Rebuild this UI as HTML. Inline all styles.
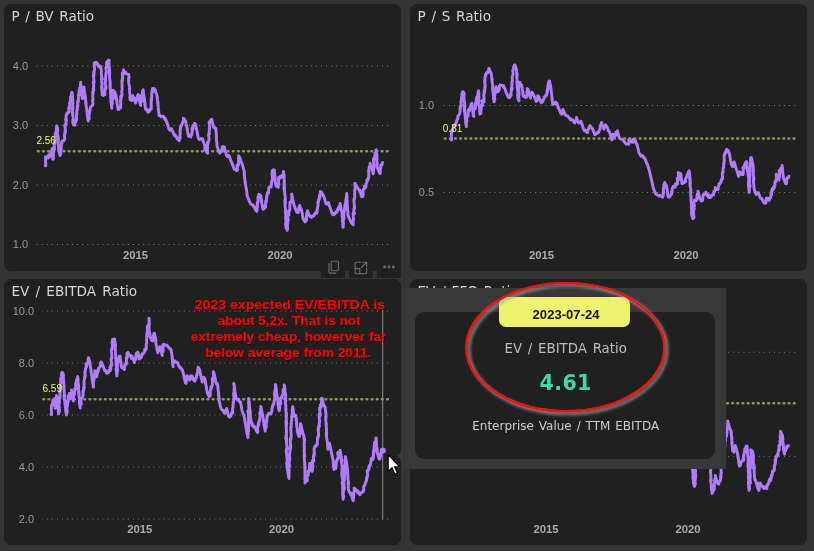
<!DOCTYPE html>
<html lang="en"><head><meta charset="utf-8"><title>Valuation ratios</title>
<style>
html,body{margin:0;padding:0}
body{width:814px;height:551px;overflow:hidden;background:#343434;position:relative;font-family:"DejaVu Sans","Liberation Sans",sans-serif}
.panel{position:absolute;background:#202020;border-radius:7px}
.panel h3{position:absolute;left:7.4px;top:3px;margin:0;font-weight:normal;font-size:13.6px;line-height:18px;color:#d6d6d6;white-space:nowrap}
#p1{left:4px;top:4px;width:397.2px;height:266.5px}
#p2{left:410.1px;top:4px;width:397.2px;height:266.5px}
#p3{left:4px;top:279.1px;width:397.2px;height:265.5px}
#p4{left:410.1px;top:279.1px;width:397.2px;height:265.5px}
.tb{position:absolute;top:255px;width:24.2px;height:22.7px;background:#202020}
svg.layer{position:absolute;left:0;top:0}
.g{stroke:#7a7a7a;stroke-width:1;stroke-dasharray:1.1 3.98}
.a{stroke:#8f9857;stroke-width:2.6;stroke-dasharray:0.7 4.43;stroke-linecap:round}
.s{fill:none;stroke:#b17cf7;stroke-width:2.9;stroke-linejoin:round;stroke-linecap:round}
.yl{font:11px "Liberation Sans",sans-serif;fill:#9a9a9a;text-anchor:end}
.xl{font:bold 11.3px "Liberation Sans",sans-serif;fill:#acacac;text-anchor:middle}
.al{font:10px "Liberation Sans",sans-serif;fill:#f0fa64}
.note{font:bold 13.33px "Liberation Sans",sans-serif;fill:#ff0606;text-anchor:middle}
#tip{position:absolute;left:403.2px;top:287.7px;width:323px;height:181.6px;background:#383838}
#tipin{position:absolute;left:12.2px;top:24.4px;width:299.6px;height:146.5px;background:#202020;border-radius:9px}
#date{position:absolute;left:96.3px;top:9px;width:130.7px;height:30.5px;border-radius:7px;background:#eef36e;color:#111;font:bold 13.1px/35px "Liberation Sans",sans-serif;text-align:center;text-indent:2.5px}
.tl{position:absolute;left:0;width:323px;text-align:center;white-space:nowrap}
#t1{top:52px;font-size:13.33px;word-spacing:1.55px;line-height:18px;color:#bebebe;left:1px}
#t2{top:80.3px;font-size:20.5px;letter-spacing:0.4px;line-height:30px;font-weight:bold;color:#42d8a4;left:1px}
#t3{top:129px;font-size:12px;word-spacing:1.07px;line-height:18px;color:#cecece;left:1px}
#arrow{position:absolute;left:397px;top:450px;width:0;height:0;border-top:6px solid transparent;border-bottom:6px solid transparent;border-right:6px solid #383838}
</style></head>
<body>
<div class="panel" id="p1"><h3 style="word-spacing:1.3px">P / BV Ratio</h3></div>
<div class="panel" id="p2"><h3 style="word-spacing:1.4px">P / S Ratio</h3></div>
<div class="panel" id="p3"><h3 style="word-spacing:1.9px">EV / EBITDA Ratio</h3></div>
<div class="panel" id="p4"><h3 style="word-spacing:1.5px">EV / FFO Ratio</h3></div>
<div class="tb" style="left:321px"></div><div class="tb" style="left:349px"></div><div class="tb" style="left:377px"></div>
<svg class="layer" width="814" height="551" viewBox="0 0 814 551">
<defs>
<filter id="sh" x="-10%" y="-10%" width="125%" height="125%"><feDropShadow dx="1.5" dy="1.5" stdDeviation="1.6" flood-color="#9a9a9a" flood-opacity="0.75"/></filter>
<filter id="tsh" x="-5%" y="-20%" width="110%" height="150%"><feDropShadow dx="0.9" dy="0.9" stdDeviation="0.45" flood-color="#000" flood-opacity="0.6"/></filter>
</defs>
<line x1="388.1" x2="35.9" y1="66" y2="66" class="g"/><line x1="388.1" x2="35.9" y1="125.5" y2="125.5" class="g"/><line x1="388.1" x2="35.9" y1="185" y2="185" class="g"/><line x1="388.1" x2="35.9" y1="244.5" y2="244.5" class="g"/><line x1="387.5" x2="35.5" y1="151.3" y2="151.3" class="a"/><text x="28.1" y="69.8" class="yl">4.0</text><text x="28.1" y="129.3" class="yl">3.0</text><text x="28.1" y="188.8" class="yl">2.0</text><text x="28.1" y="248.3" class="yl">1.0</text><text x="135.5" y="258.6" class="xl">2015</text><text x="280" y="258.6" class="xl">2020</text><path d="M45.2,165.5 L45.6,165.8 L45.9,165.7 L45.8,164.0 L45.6,162.0 L45.5,160.2 L45.7,159.8 L45.6,158.2 L45.5,156.6 L45.9,156.8 L46.2,156.7 L47.0,157.6 L47.5,157.0 L48.4,158.0 L48.6,157.0 L48.6,155.0 L49.2,155.3 L49.6,154.9 L50.4,156.2 L50.3,153.7 L50.6,153.0 L51.2,153.0 L51.4,151.7 L51.8,151.3 L51.9,149.5 L52.2,148.4 L52.5,150.3 L52.5,151.2 L52.5,151.6 L52.2,151.2 L52.4,152.6 L52.5,153.5 L52.7,155.0 L52.7,155.7 L52.9,157.2 L52.8,157.5 L52.9,158.2 L53.0,159.4 L52.8,159.2 L52.8,157.9 L52.8,156.9 L53.4,158.3 L53.4,156.8 L53.5,156.3 L53.6,155.6 L53.5,154.1 L53.2,151.7 L53.7,152.4 L53.6,151.1 L53.9,151.1 L53.7,148.9 L53.7,148.1 L54.2,148.8 L54.6,149.0 L54.2,146.3 L54.0,144.4 L54.2,144.2 L54.5,144.4 L54.6,143.5 L54.8,143.0 L54.6,141.1 L54.9,141.1 L55.2,141.3 L55.1,139.6 L54.9,137.4 L54.9,136.4 L55.3,136.9 L55.1,134.6 L55.3,134.4 L55.3,133.2 L55.5,132.9 L55.7,132.3 L55.9,131.8 L56.3,132.5 L56.4,131.6 L56.7,131.5 L56.5,129.8 L56.4,128.2 L56.6,127.5 L56.6,125.7 L57.6,128.2 L57.6,128.9 L57.5,128.8 L57.8,130.7 L57.7,131.2 L57.3,130.1 L57.5,131.9 L57.5,132.6 L57.6,133.7 L57.8,135.1 L58.2,137.4 L58.2,138.1 L58.2,138.7 L58.3,139.7 L57.9,138.7 L58.3,141.3 L58.1,141.0 L58.3,142.5 L58.1,142.3 L58.0,142.7 L58.1,143.9 L58.7,146.9 L58.7,147.9 L58.5,147.6 L58.5,148.2 L58.4,148.0 L58.7,149.3 L58.8,149.9 L59.2,151.7 L59.0,151.2 L59.3,152.3 L59.3,152.7 L59.5,153.5 L60.0,155.6 L60.1,154.9 L60.3,154.6 L60.6,154.6 L60.9,154.2 L60.5,151.3 L60.7,151.1 L60.4,148.5 L60.6,148.3 L61.3,149.6 L61.2,148.0 L61.2,146.6 L61.3,146.0 L61.4,145.1 L61.5,144.3 L61.5,142.7 L61.9,143.2 L62.1,142.9 L62.0,141.1 L62.7,140.8 L63.4,140.6 L64.1,140.5 L64.5,138.8 L64.8,138.9 L64.6,137.3 L64.4,135.3 L64.4,134.4 L64.8,134.9 L65.0,134.8 L65.0,133.6 L64.8,131.9 L65.0,131.4 L65.4,132.0 L65.6,131.7 L65.2,129.3 L65.2,128.2 L64.9,126.0 L64.9,124.7 L65.2,124.8 L65.3,124.4 L65.6,124.6 L65.9,124.7 L66.0,123.9 L66.2,123.6 L65.9,121.4 L65.6,119.3 L65.8,119.2 L66.5,120.8 L66.4,119.2 L66.0,116.6 L66.1,116.1 L66.2,115.6 L66.5,114.2 L67.1,114.3 L67.2,112.7 L67.9,113.2 L68.2,111.9 L68.5,111.5 L69.0,112.0 L68.8,109.8 L68.7,107.9 L69.3,108.7 L69.1,106.4 L69.8,107.4 L69.7,105.6 L69.5,103.3 L69.8,102.8 L70.0,102.0 L70.3,101.4 L70.4,100.3 L70.9,100.5 L70.4,97.2 L70.7,96.5 L71.0,96.1 L71.7,97.4 L71.3,94.3 L71.6,93.7 L71.7,92.3 L72.1,92.5 L72.2,93.6 L72.4,94.9 L72.7,96.9 L72.4,96.5 L72.5,97.4 L72.7,99.1 L72.8,100.2 L72.5,100.0 L72.8,101.6 L72.4,101.0 L72.9,103.4 L72.7,103.7 L72.6,104.0 L72.7,104.8 L72.8,106.2 L73.1,108.1 L72.9,107.8 L72.7,107.8 L72.8,109.0 L72.5,108.7 L72.2,108.2 L72.6,110.6 L72.6,111.1 L72.9,113.2 L72.6,112.7 L72.0,111.1 L72.5,113.5 L72.7,115.0 L73.1,117.6 L73.1,118.3 L73.1,118.9 L73.1,119.9 L73.0,119.9 L73.0,120.7 L72.7,120.2 L72.9,122.0 L72.8,122.1 L72.9,123.4 L73.7,124.5 L74.3,125.3 L74.3,123.7 L75.0,124.9 L74.9,122.8 L75.3,122.6 L75.6,122.2 L75.7,121.0 L75.8,119.9 L76.4,120.4 L76.5,119.5 L76.6,118.2 L76.3,115.1 L76.6,114.7 L76.9,114.7 L76.9,113.9 L76.7,112.1 L76.7,111.0 L76.8,110.3 L77.1,110.5 L77.3,109.9 L77.5,109.8 L77.3,107.8 L77.6,107.9 L77.4,106.3 L77.4,105.2 L77.9,106.1 L77.8,104.7 L77.8,103.4 L77.7,102.3 L77.7,101.1 L78.2,101.9 L78.4,101.8 L78.4,100.7 L78.3,99.3 L78.5,99.0 L78.4,97.4 L78.5,96.7 L78.5,95.9 L78.4,94.4 L79.0,95.2 L79.3,95.1 L79.5,94.4 L78.9,90.7 L79.5,91.6 L79.7,90.8 L79.5,88.9 L79.6,87.9 L80.0,88.0 L80.3,87.7 L80.4,86.9 L80.4,85.5 L80.5,84.2 L80.7,83.8 L80.7,82.1 L80.6,82.2 L80.5,82.7 L80.7,83.7 L80.9,85.1 L81.5,88.0 L81.0,86.6 L81.2,87.9 L81.2,88.4 L81.4,89.5 L81.7,91.3 L81.9,92.6 L81.7,92.4 L81.6,92.3 L81.3,91.9 L81.5,93.2 L82.0,95.4 L81.9,95.7 L82.1,97.0 L82.3,98.1 L82.2,98.2 L82.6,98.6 L82.5,97.0 L82.4,95.2 L82.3,93.5 L82.8,94.1 L82.9,92.9 L83.0,92.0 L83.3,92.1 L83.2,90.4 L83.8,91.4 L84.0,90.6 L83.8,88.7 L83.8,87.2 L84.1,87.1 L84.0,87.0 L84.0,87.6 L84.2,88.8 L84.4,90.0 L84.5,90.9 L84.7,92.1 L84.7,92.4 L84.8,93.2 L85.2,95.3 L85.3,96.2 L85.1,96.1 L85.6,98.4 L85.1,96.6 L85.3,97.9 L85.6,99.5 L85.8,101.0 L85.8,101.5 L85.7,101.6 L86.0,103.0 L86.0,103.4 L86.1,104.2 L85.6,102.6 L86.0,104.8 L86.0,105.3 L86.5,107.5 L86.7,108.9 L86.9,110.0 L86.8,110.0 L87.0,111.1 L87.0,111.4 L87.1,112.4 L87.2,113.0 L87.1,113.1 L87.7,116.0 L87.8,116.9 L87.3,115.3 L87.8,117.4 L87.5,116.8 L87.7,118.0 L87.8,118.6 L87.9,119.4 L88.2,121.1 L88.2,120.0 L88.1,118.0 L88.4,117.9 L88.7,117.8 L89.3,118.7 L89.1,116.8 L88.9,114.7 L89.1,113.9 L89.4,114.0 L89.4,112.4 L89.4,111.2 L89.8,111.4 L89.9,110.6 L90.1,110.0 L90.2,108.8 L90.4,107.2 L91.0,106.7 L91.5,106.2 L92.0,105.4 L92.7,105.3 L92.8,105.0 L92.9,104.5 L93.0,103.7 L92.7,101.7 L92.5,100.1 L92.9,100.5 L92.9,99.7 L93.0,99.0 L92.7,97.1 L92.8,96.5 L92.8,95.5 L92.7,94.3 L92.8,93.6 L92.6,92.0 L92.9,92.2 L93.3,92.9 L93.2,91.3 L93.3,90.7 L93.1,89.0 L93.4,89.3 L93.8,90.1 L93.4,87.5 L93.4,86.5 L93.8,87.1 L93.8,86.2 L93.7,85.0 L93.2,82.1 L93.4,81.9 L93.7,82.3 L94.1,82.7 L94.1,81.8 L93.8,79.8 L93.7,78.3 L93.4,76.1 L93.4,75.2 L93.9,76.3 L93.9,75.4 L93.7,73.5 L94.1,74.5 L93.7,71.9 L94.2,72.8 L94.1,71.5 L94.2,71.1 L94.4,70.7 L94.4,69.8 L94.6,69.9 L94.5,68.4 L94.4,66.9 L94.3,65.8 L94.2,63.6 L94.5,62.8 L95.1,63.6 L95.6,63.5 L96.0,63.6 L96.1,62.2 L96.9,64.3 L97.1,64.3 L97.1,63.0 L97.5,63.5 L98.4,66.4 L98.7,66.7 L98.9,66.2 L99.6,67.2 L99.7,65.9 L100.3,66.3 L101.1,67.7 L100.5,66.2 L101.1,69.1 L101.4,71.2 L101.4,71.7 L101.4,72.8 L101.2,72.5 L101.4,74.1 L101.6,75.6 L101.9,77.4 L102.1,78.9 L101.9,79.0 L101.7,78.9 L101.5,78.6 L101.4,79.0 L101.6,80.7 L101.8,81.9 L101.7,82.5 L102.1,84.6 L102.1,85.3 L101.9,85.4 L101.8,85.7 L101.8,86.4 L101.6,86.2 L101.5,86.5 L101.7,88.2 L101.7,88.6 L101.7,89.5 L102.1,91.7 L102.0,92.0 L102.3,93.9 L102.1,94.1 L102.1,94.8 L103.3,95.6 L103.8,93.4 L105.0,94.5 L105.0,93.6 L104.6,90.9 L104.9,91.0 L105.1,90.6 L104.8,88.8 L104.9,88.0 L105.2,88.3 L105.6,88.8 L105.8,88.5 L105.9,88.1 L106.0,87.3 L105.2,83.3 L105.2,82.3 L105.5,82.2 L105.0,79.2 L105.5,80.3 L105.8,80.7 L105.7,79.0 L105.7,78.0 L105.6,76.7 L105.8,76.4 L105.9,75.8 L106.0,75.2 L105.8,73.5 L106.1,73.5 L106.1,72.5 L106.4,72.7 L106.4,71.9 L106.1,69.5 L105.9,67.8 L106.2,67.9 L106.2,67.1 L106.5,67.1 L106.7,67.0 L106.7,65.9 L106.5,64.3 L106.6,62.2 L107.4,62.8 L107.6,61.3 L108.4,62.1 L108.7,61.2 L109.2,60.5 L109.0,60.6 L109.1,61.6 L108.5,59.9 L108.8,61.8 L109.2,63.9 L109.1,64.1 L109.0,64.6 L109.2,66.0 L109.4,67.2 L109.3,67.4 L109.5,69.3 L109.2,68.5 L109.7,71.0 L109.4,70.4 L109.3,71.0 L109.8,73.6 L109.6,73.3 L109.3,72.9 L109.6,74.7 L109.5,75.1 L109.5,75.5 L109.5,76.4 L109.6,77.3 L109.6,77.9 L109.6,78.5 L110.2,81.6 L110.0,81.7 L110.3,83.5 L110.0,82.7 L110.2,84.4 L110.0,84.1 L110.0,85.0 L110.3,86.9 L110.3,87.2 L109.9,86.4 L110.1,87.7 L110.3,89.0 L110.6,90.8 L110.4,90.7 L110.5,91.7 L110.6,92.9 L110.3,92.4 L110.6,93.9 L110.5,94.4 L110.8,96.2 L110.9,97.0 L110.9,97.8 L110.5,96.6 L110.8,98.3 L110.9,99.4 L110.8,99.9 L110.9,100.9 L110.8,101.1 L111.1,102.9 L111.4,104.7 L111.6,105.9 L111.4,106.0 L111.9,108.4 L111.7,108.3 L111.7,106.9 L111.7,106.0 L111.5,103.7 L111.7,103.5 L112.1,103.8 L112.4,104.0 L112.3,102.3 L112.0,99.7 L112.2,99.4 L112.7,100.3 L112.7,99.2 L113.1,99.3 L113.2,98.6 L113.4,98.5 L113.4,97.2 L113.2,95.0 L113.3,94.4 L113.9,95.6 L113.6,93.2 L113.2,90.2 L113.6,91.0 L114.2,92.4 L114.4,92.2 L114.6,92.5 L114.8,92.1 L115.5,94.3 L116.0,95.4 L116.0,95.7 L116.1,96.3 L116.1,97.1 L116.6,99.2 L116.6,99.6 L117.0,101.5 L116.8,101.0 L116.8,101.2 L116.8,101.9 L116.9,102.5 L117.1,103.6 L117.5,105.6 L117.9,107.2 L117.6,106.4 L118.0,108.4 L118.0,108.8 L118.1,109.6 L119.0,109.4 L119.5,107.9 L120.5,107.9 L120.7,107.8 L120.6,106.2 L120.6,105.4 L120.7,104.7 L120.8,104.1 L120.5,101.6 L120.4,100.3 L120.7,100.4 L120.9,100.2 L120.9,99.1 L120.7,97.0 L121.2,98.2 L121.2,97.1 L121.1,95.4 L121.6,96.5 L121.8,96.4 L122.0,95.8 L122.0,95.0 L122.0,93.9 L121.7,91.6 L121.8,90.9 L122.0,90.4 L122.1,90.0 L122.2,89.3 L122.0,87.2 L122.1,86.6 L122.0,85.3 L122.1,84.7 L122.0,83.3 L121.8,81.4 L121.8,80.5 L122.2,81.0 L122.4,80.7 L122.6,80.6 L122.2,78.0 L122.4,77.6 L122.8,78.1 L122.4,75.5 L122.4,74.5 L122.3,73.0 L122.9,74.5 L123.0,73.8 L122.9,72.6 L123.1,72.2 L123.2,71.4 L123.4,71.5 L123.7,71.4 L123.5,69.7 L124.1,71.1 L124.5,71.9 L125.0,72.7 L125.5,73.8 L125.3,72.0 L125.8,73.3 L126.8,73.8 L127.8,74.3 L128.8,74.5 L128.8,75.2 L129.0,76.6 L129.0,77.4 L129.0,78.1 L128.8,77.8 L128.7,77.8 L128.7,78.7 L128.5,78.6 L128.7,80.0 L128.8,80.9 L128.6,80.9 L128.5,81.1 L128.8,82.9 L129.0,84.1 L129.7,87.7 L129.8,88.8 L129.6,88.3 L129.5,88.6 L129.4,88.7 L129.4,89.4 L129.5,90.4 L129.6,91.7 L129.6,92.2 L129.9,94.2 L130.1,95.4 L130.5,97.7 L130.0,96.3 L130.2,97.8 L130.1,97.9 L129.8,97.3 L129.9,98.5 L130.1,99.6 L130.4,98.4 L131.5,100.6 L132.0,100.1 L132.6,99.9 L133.0,98.9 L132.7,95.5 L133.1,96.7 L133.4,97.4 L133.8,98.5 L133.9,98.1 L133.8,97.4 L134.9,101.1 L135.4,102.7 L135.6,103.1 L135.7,102.9 L135.9,102.3 L135.9,100.3 L136.4,100.8 L136.6,100.0 L136.8,99.0 L136.9,97.8 L137.1,97.1 L137.4,96.5 L137.6,95.4 L138.0,95.7 L138.2,94.4 L138.3,95.2 L138.3,95.2 L138.8,97.3 L139.2,99.0 L139.4,99.7 L139.0,98.1 L139.1,99.0 L139.6,101.0 L139.8,101.6 L140.2,103.4 L140.1,103.2 L140.4,104.6 L140.6,105.5 L140.4,104.7 L140.4,103.2 L140.6,102.8 L140.7,101.8 L140.7,100.7 L141.3,102.0 L141.4,100.7 L141.6,100.5 L141.4,98.2 L141.1,95.8 L141.4,95.6 L141.8,95.9 L141.8,94.7 L142.1,94.9 L142.5,94.8 L142.4,93.3 L142.5,92.4 L142.5,91.0 L142.9,91.5 L143.4,92.0 L143.2,89.8 L143.2,90.5 L143.1,90.5 L143.2,91.3 L143.6,93.1 L143.4,93.0 L143.9,95.3 L143.6,94.6 L143.8,95.6 L144.2,97.7 L144.6,99.7 L144.4,99.2 L144.5,100.3 L145.1,102.9 L145.1,103.4 L144.4,101.1 L144.7,102.4 L145.3,105.4 L144.9,104.2 L145.2,105.8 L144.7,104.3 L145.3,107.2 L145.2,106.9 L145.5,108.7 L145.6,109.4 L145.5,107.8 L145.9,108.1 L146.7,110.2 L147.0,110.0 L147.8,112.3 L148.2,110.5 L149.2,111.6 L149.6,110.2 L150.1,108.8 L150.9,109.0 L151.2,109.3 L151.1,107.8 L151.2,107.1 L151.3,106.5 L151.2,104.9 L151.0,103.1 L151.3,103.2 L151.2,102.2 L151.0,100.3 L151.4,100.9 L151.6,100.5 L151.6,99.7 L151.5,98.0 L151.6,97.3 L151.8,97.2 L151.9,96.7 L151.7,94.9 L151.6,93.5 L151.9,93.4 L152.0,92.9 L152.3,92.9 L152.0,90.7 L152.3,91.0 L152.7,91.5 L152.8,90.8 L152.5,88.5 L153.5,89.9 L153.9,88.5 L154.8,89.1 L155.5,91.7 L155.2,90.3 L155.3,90.4 L155.9,92.6 L156.0,92.8 L156.2,93.4 L156.4,93.6 L157.2,96.6 L157.3,96.6 L157.3,97.1 L157.0,96.5 L157.4,98.8 L157.5,99.7 L157.7,101.0 L158.1,103.1 L158.1,103.3 L157.7,102.6 L157.6,102.7 L157.9,104.1 L158.3,106.4 L158.0,105.7 L158.1,106.5 L158.2,107.5 L158.5,109.1 L158.3,108.9 L158.5,110.2 L158.8,111.8 L158.8,112.2 L158.8,112.8 L159.0,114.1 L159.1,115.2 L159.1,115.7 L159.9,115.3 L161.1,116.8 L161.9,116.4 L162.6,116.1 L163.0,116.1 L163.3,116.1 L164.0,117.4 L164.9,119.5 L164.9,118.0 L165.3,118.5 L166.3,121.1 L166.5,121.6 L167.0,123.3 L166.9,122.8 L167.3,124.0 L167.1,122.7 L167.4,123.9 L168.1,126.4 L168.7,128.6 L169.0,129.3 L169.8,130.1 L170.2,129.4 L170.9,129.6 L171.3,128.6 L172.5,131.1 L173.2,133.0 L173.3,132.5 L174.1,135.1 L174.1,134.0 L174.6,135.5 L174.9,135.8 L175.0,134.7 L175.8,136.5 L176.2,136.4 L177.1,138.7 L177.4,138.4 L178.0,139.4 L178.5,139.7 L179.1,140.8 L179.1,139.4 L179.5,139.6 L179.7,139.2 L179.7,138.1 L179.7,137.0 L180.3,137.9 L180.0,135.6 L180.0,134.2 L180.3,134.1 L180.3,133.0 L180.0,130.6 L180.2,130.2 L180.4,129.5 L180.3,128.1 L180.6,128.1 L180.6,126.5 L180.8,126.0 L181.0,125.6 L181.5,125.9 L181.7,124.6 L182.0,124.1 L182.3,123.4 L182.7,123.0 L182.8,121.6 L183.2,121.3 L183.4,120.2 L183.4,118.1 L183.9,118.8 L184.2,118.7 L185.0,121.0 L185.6,121.9 L186.0,122.4 L185.6,120.9 L185.5,120.8 L185.7,122.0 L186.1,123.8 L186.2,124.2 L187.0,127.8 L187.2,128.7 L187.3,129.1 L187.1,128.9 L187.3,129.7 L187.5,130.6 L187.6,131.3 L187.8,132.3 L188.2,134.1 L187.9,133.1 L188.2,134.7 L188.5,136.2 L189.1,135.6 L190.0,136.2 L190.9,137.0 L190.7,135.0 L191.3,135.7 L191.4,134.5 L191.8,134.8 L192.0,134.0 L192.0,132.5 L192.2,131.9 L192.2,130.5 L192.0,128.3 L192.7,129.5 L192.9,128.8 L193.2,128.7 L192.8,125.7 L193.3,126.2 L193.5,125.3 L194.3,125.4 L194.6,123.3 L195.8,124.7 L195.7,124.7 L195.9,125.8 L196.2,127.0 L196.2,127.1 L196.4,128.2 L196.6,129.3 L197.1,131.6 L197.1,131.8 L197.7,134.5 L197.4,133.1 L197.4,133.7 L197.9,135.6 L197.5,134.5 L197.9,136.2 L198.1,137.3 L198.1,137.3 L198.3,138.3 L199.5,139.6 L200.2,138.7 L201.2,138.8 L202.0,138.7 L202.7,140.6 L202.3,138.9 L202.4,138.8 L202.7,139.3 L203.2,140.8 L203.8,142.8 L204.3,144.4 L204.5,144.6 L204.9,146.9 L204.8,147.2 L205.0,148.4 L204.8,148.2 L205.0,149.5 L205.5,149.9 L206.4,151.8 L207.0,152.2 L207.6,153.3 L207.3,151.1 L207.1,148.8 L207.5,148.9 L207.6,148.2 L207.5,146.7 L207.4,144.7 L207.8,145.2 L207.5,142.6 L207.7,142.2 L208.2,143.0 L208.2,141.8 L208.5,141.5 L208.6,140.9 L208.7,139.8 L209.0,140.1 L209.1,139.2 L208.9,137.4 L208.6,135.3 L208.7,134.7 L208.7,133.6 L209.0,133.6 L209.3,133.9 L209.4,133.4 L209.2,131.4 L209.3,130.7 L209.3,129.8 L209.3,128.5 L209.7,129.0 L209.7,128.3 L209.8,127.3 L209.4,125.0 L209.0,122.1 L209.2,121.8 L209.7,123.0 L209.8,122.2 L210.1,121.4 L210.4,120.5 L210.9,120.3 L211.2,119.5 L211.7,119.2 L211.9,120.2 L212.0,120.4 L212.4,122.3 L212.6,123.2 L212.8,123.9 L212.9,124.5 L213.0,124.7 L213.1,125.5 L213.4,126.5 L213.5,127.0 L213.4,126.7 L214.5,128.1 L215.1,127.8 L215.9,128.2 L215.9,128.6 L215.8,129.0 L215.8,129.5 L216.0,130.8 L216.3,132.8 L216.3,133.2 L216.4,134.4 L216.1,133.8 L216.5,135.8 L216.3,135.5 L216.6,137.3 L216.5,137.4 L216.4,138.0 L216.3,138.0 L216.3,138.4 L216.5,139.9 L216.5,140.4 L216.7,141.8 L217.1,144.1 L216.9,143.9 L216.9,144.7 L217.0,145.6 L217.1,146.6 L217.4,147.2 L217.8,148.3 L218.3,150.1 L218.4,149.8 L218.7,150.4 L219.0,151.2 L219.6,153.2 L219.6,152.9 L220.1,152.2 L220.8,152.2 L221.4,151.7 L221.6,149.9 L222.0,149.0 L222.4,146.7 L223.3,146.8 L224.5,147.7 L224.3,146.9 L224.9,149.4 L225.2,150.5 L225.4,151.1 L225.5,151.6 L225.9,153.1 L226.0,153.6 L226.4,155.0 L226.5,155.4 L227.7,156.7 L228.2,155.3 L229.4,156.1 L230.0,158.2 L230.4,159.6 L231.0,161.2 L230.8,160.3 L231.3,161.5 L231.7,162.7 L232.0,163.7 L232.0,163.1 L232.7,165.3 L232.9,165.7 L232.8,164.7 L233.7,167.9 L233.8,167.9 L234.2,169.2 L234.2,168.6 L234.3,168.7 L235.5,169.8 L236.6,170.8 L237.3,170.2 L237.5,169.5 L237.2,167.4 L237.0,165.3 L237.6,166.5 L237.4,164.9 L237.8,165.3 L238.2,165.4 L238.2,164.5 L238.5,164.7 L238.5,163.3 L238.5,162.2 L238.5,160.9 L238.6,160.2 L238.7,159.4 L238.5,157.4 L238.6,156.8 L238.6,155.8 L239.0,156.3 L239.7,158.6 L239.6,157.6 L240.0,158.6 L239.8,157.4 L240.2,158.7 L241.0,161.4 L241.2,161.6 L241.4,162.2 L241.7,163.0 L242.0,163.9 L242.3,164.8 L242.0,163.3 L242.2,164.1 L243.1,167.3 L243.1,167.0 L243.7,169.1 L243.9,169.7 L244.1,170.9 L244.3,172.1 L244.3,172.6 L244.1,172.3 L244.4,173.6 L244.5,174.6 L244.3,174.2 L244.3,174.8 L244.2,174.8 L244.4,176.0 L244.6,177.3 L244.6,177.5 L244.4,177.2 L244.9,179.7 L245.4,182.0 L245.2,181.7 L245.3,182.7 L245.4,183.5 L244.9,181.8 L245.8,185.7 L245.9,186.6 L245.7,186.0 L246.2,188.4 L246.4,189.6 L246.7,191.3 L246.8,191.9 L246.8,192.5 L247.1,194.0 L246.9,193.6 L247.0,194.2 L246.8,193.8 L246.7,193.8 L247.1,195.8 L247.5,196.6 L247.4,196.0 L248.0,197.7 L248.6,199.6 L248.6,198.9 L248.9,199.7 L249.7,202.3 L249.7,201.8 L250.2,203.1 L250.5,203.7 L251.4,204.5 L252.1,204.7 L252.9,204.9 L253.4,206.1 L253.8,206.7 L253.8,206.0 L254.4,207.5 L254.6,207.8 L255.4,209.8 L256.8,211.4 L257.2,209.1 L257.0,206.8 L257.4,207.2 L257.5,206.3 L257.3,204.3 L257.2,202.8 L257.7,203.6 L257.7,202.2 L257.8,201.6 L258.0,201.0 L258.4,201.1 L257.8,197.6 L258.4,198.8 L258.3,197.2 L258.4,196.4 L258.8,196.5 L259.0,196.0 L258.8,194.1 L259.8,194.9 L260.9,195.9 L260.8,195.7 L260.9,196.4 L260.8,196.4 L261.3,198.8 L261.8,201.2 L261.6,200.9 L261.6,201.3 L261.5,201.0 L261.6,201.9 L261.6,202.5 L262.0,204.1 L262.6,206.9 L262.8,208.2 L263.0,209.2 L262.7,208.3 L263.7,209.1 L264.4,208.2 L264.3,206.5 L264.7,206.8 L264.9,205.8 L265.6,207.2 L265.5,205.6 L265.5,203.9 L265.8,203.5 L265.6,201.2 L265.9,201.2 L266.4,201.7 L266.4,200.0 L266.3,198.4 L266.8,198.6 L266.6,196.3 L267.0,196.1 L267.1,194.7 L267.4,194.4 L267.4,192.8 L267.8,192.9 L268.1,192.5 L268.7,193.0 L268.6,191.0 L268.8,190.2 L268.7,188.2 L269.3,186.9 L270.3,187.3 L271.1,186.9 L271.1,185.7 L271.1,184.4 L271.4,184.6 L271.6,184.5 L271.5,183.1 L271.8,183.0 L271.7,181.4 L271.8,180.8 L272.0,180.5 L272.1,180.0 L272.3,179.3 L272.6,179.6 L272.3,177.3 L272.3,176.1 L271.9,173.6 L272.4,174.2 L272.2,172.4 L272.2,171.5 L272.3,170.8 L272.6,170.8 L272.7,170.1 L273.5,169.7 L274.4,170.1 L274.4,170.6 L274.5,171.6 L274.4,171.6 L274.5,172.4 L274.4,172.6 L274.8,175.0 L275.1,176.7 L275.2,177.7 L275.3,178.4 L275.1,178.3 L275.3,179.7 L275.0,178.9 L274.6,178.0 L274.7,179.0 L275.4,182.4 L275.6,183.5 L276.0,185.6 L275.7,185.0 L276.9,186.6 L277.8,186.9 L278.3,187.3 L278.3,185.8 L278.5,185.3 L278.4,183.3 L278.8,183.7 L278.5,181.0 L278.5,179.5 L278.7,178.9 L278.7,177.5 L279.2,177.9 L280.0,178.2 L280.3,176.3 L281.3,177.2 L281.8,175.8 L282.2,175.2 L282.8,175.5 L283.3,175.0 L283.3,172.9 L283.5,171.4 L283.6,172.5 L283.9,174.2 L284.2,175.9 L284.3,177.2 L284.0,176.4 L283.5,175.2 L283.3,175.0 L284.0,178.2 L284.2,179.9 L284.4,181.3 L284.3,181.3 L284.2,181.8 L284.3,182.8 L284.4,183.7 L284.4,184.2 L284.1,183.9 L283.9,183.8 L284.2,185.5 L284.3,186.5 L284.7,188.8 L284.4,188.2 L284.0,187.4 L283.9,187.4 L284.2,189.5 L284.8,192.5 L284.7,192.8 L284.7,193.3 L284.8,194.3 L285.2,196.5 L285.3,197.7 L285.3,198.5 L285.4,199.3 L285.1,199.1 L285.1,199.6 L285.2,200.6 L285.5,202.7 L284.8,200.6 L284.8,201.4 L285.1,202.9 L285.1,203.6 L285.1,204.4 L285.1,205.1 L285.0,205.3 L285.2,207.0 L285.6,209.0 L285.4,209.0 L285.5,210.1 L285.7,211.6 L285.4,211.3 L285.4,211.9 L285.2,211.6 L285.7,214.3 L286.0,216.3 L285.8,216.0 L286.1,218.2 L286.1,218.8 L285.5,217.0 L285.7,218.5 L285.8,219.4 L285.9,220.6 L286.0,221.7 L285.8,221.7 L286.1,223.4 L286.0,224.0 L286.4,226.1 L286.2,225.8 L285.5,223.9 L286.1,227.2 L286.2,228.1 L285.9,227.5 L286.1,227.6 L286.5,228.2 L287.2,230.4 L287.1,229.1 L287.5,229.5 L287.4,227.9 L287.6,228.0 L287.5,226.2 L287.3,224.4 L287.6,224.6 L287.6,223.6 L287.8,223.3 L287.4,220.9 L287.4,219.7 L287.5,219.3 L288.2,220.8 L288.2,219.9 L287.7,217.1 L287.2,213.9 L288.0,216.3 L288.2,215.8 L287.9,213.8 L288.3,214.3 L288.5,214.1 L289.0,214.8 L288.8,213.1 L288.5,210.9 L289.4,211.1 L289.9,209.3 L289.8,207.9 L289.8,206.5 L289.9,205.8 L289.9,204.4 L289.9,203.1 L290.0,202.3 L290.5,202.9 L290.7,202.5 L290.8,201.8 L291.1,201.6 L291.3,201.3 L291.5,200.6 L291.9,201.2 L291.8,199.6 L291.9,198.4 L291.7,196.6 L292.1,196.7 L292.1,195.4 L291.6,194.0 L292.2,196.2 L292.1,196.1 L292.5,197.8 L292.7,198.8 L292.6,198.5 L292.6,198.6 L292.9,200.1 L293.8,203.8 L293.5,202.8 L293.6,203.3 L293.8,204.4 L294.0,204.8 L294.7,206.9 L295.3,209.1 L295.4,208.9 L295.7,209.5 L295.8,209.5 L296.4,211.5 L296.4,211.0 L297.3,212.4 L297.8,212.1 L298.3,212.4 L298.4,211.1 L298.4,209.2 L299.1,210.4 L298.8,207.2 L299.2,207.0 L299.4,206.1 L299.7,205.4 L300.4,207.9 L300.7,208.5 L300.8,208.5 L300.9,208.4 L301.4,209.8 L301.7,210.7 L301.8,211.4 L301.8,211.7 L302.4,214.3 L302.5,214.9 L302.5,215.3 L302.4,214.9 L302.4,215.5 L302.9,217.6 L302.9,217.8 L303.2,219.4 L303.9,220.2 L304.6,221.3 L305.2,222.0 L305.3,220.9 L305.4,219.9 L305.6,219.2 L305.9,219.1 L306.6,220.3 L306.6,219.2 L306.3,216.2 L306.9,217.5 L306.8,215.7 L306.7,213.8 L306.9,213.2 L307.1,212.3 L307.3,211.7 L307.4,210.8 L307.8,211.5 L308.4,213.4 L309.1,215.1 L309.3,215.0 L309.5,215.2 L310.7,216.8 L311.5,217.4 L311.9,216.2 L312.9,216.2 L313.7,216.1 L314.2,214.4 L315.1,214.0 L315.6,212.6 L316.7,213.3 L316.9,212.7 L317.1,212.3 L317.1,210.8 L317.1,209.3 L317.5,209.6 L317.5,208.2 L317.6,207.2 L317.7,206.5 L318.0,206.2 L318.1,205.3 L317.9,203.4 L317.9,202.0 L318.4,202.7 L318.5,201.5 L318.6,200.8 L318.6,199.2 L319.2,199.6 L319.4,199.2 L319.4,197.6 L319.3,195.4 L320.1,196.9 L320.1,195.3 L320.0,193.5 L320.2,192.8 L320.3,191.5 L320.8,192.0 L321.2,192.1 L321.6,192.2 L322.4,194.2 L322.8,194.3 L323.4,195.2 L323.6,195.9 L323.8,196.6 L323.9,196.9 L324.0,196.9 L324.3,198.2 L324.7,199.3 L325.0,200.4 L325.3,201.4 L325.8,203.5 L326.9,204.2 L327.7,203.5 L328.3,202.5 L328.5,203.1 L328.4,202.4 L328.9,204.2 L329.5,206.3 L329.5,206.0 L329.6,206.1 L329.7,206.5 L330.1,207.7 L330.4,208.6 L330.5,208.6 L331.3,211.1 L331.9,213.2 L332.0,213.2 L332.2,213.4 L332.3,213.2 L332.7,214.6 L333.6,214.8 L334.0,213.3 L335.0,213.9 L335.3,213.3 L335.6,212.2 L336.1,212.2 L336.4,211.6 L337.0,212.0 L337.2,210.5 L337.6,210.4 L337.7,208.9 L338.5,209.6 L338.6,207.5 L339.0,206.6 L339.9,207.7 L340.0,205.5 L340.1,203.4 L340.3,204.4 L340.1,204.1 L340.2,204.5 L340.4,205.5 L340.7,206.6 L341.1,208.7 L341.0,208.3 L341.2,209.3 L341.5,210.7 L341.6,211.2 L342.0,212.9 L342.2,214.0 L342.1,214.3 L342.0,214.2 L342.0,214.9 L342.0,215.6 L342.1,216.4 L342.3,218.1 L342.8,220.5 L343.2,222.9 L342.9,222.3 L342.3,220.6 L342.9,223.3 L342.8,223.7 L342.7,224.0 L343.1,225.9 L343.0,226.2 L342.9,226.6 L342.9,227.2 L343.2,227.1 L343.4,226.8 L343.1,224.8 L343.1,223.6 L343.5,224.2 L343.3,222.4 L343.3,221.4 L343.2,220.1 L343.4,219.5 L343.7,219.8 L343.7,218.9 L344.0,218.9 L344.1,218.2 L343.6,215.1 L343.7,214.8 L343.9,214.3 L343.6,212.2 L344.0,212.8 L344.1,212.1 L344.1,210.9 L344.3,210.8 L344.6,210.8 L344.7,210.3 L344.5,208.3 L344.6,207.5 L345.3,208.9 L344.9,205.9 L345.0,205.1 L345.1,204.3 L345.6,204.8 L345.7,203.9 L345.7,202.7 L345.6,201.2 L346.0,201.3 L346.0,200.0 L346.0,198.8 L346.2,198.0 L346.4,197.6 L346.4,196.5 L346.6,195.7 L346.8,195.3 L346.7,193.5 L346.7,194.1 L346.8,195.1 L347.0,196.6 L347.1,197.6 L346.9,197.6 L346.7,197.5 L346.8,198.4 L346.8,199.2 L347.2,201.2 L347.3,202.5 L347.3,203.0 L347.1,202.7 L346.9,202.6 L347.1,204.3 L347.4,206.0 L347.5,207.1 L347.5,207.5 L347.6,208.8 L347.2,207.6 L347.6,210.1 L348.0,212.2 L347.9,212.5 L347.9,213.1 L347.8,213.4 L348.1,214.9 L347.8,214.5 L347.9,215.4 L348.3,216.4 L348.4,216.0 L349.1,217.8 L349.6,219.2 L350.0,219.9 L350.3,220.4 L351.2,222.7 L351.4,222.3 L351.9,223.1 L352.6,224.4 L352.9,224.4 L353.2,224.7 L353.1,223.3 L353.2,222.5 L353.2,221.4 L353.3,221.0 L353.2,219.3 L353.4,219.4 L353.6,219.2 L353.3,216.9 L353.1,214.8 L353.0,213.5 L353.1,212.9 L353.5,213.5 L353.6,212.9 L354.1,213.9 L354.4,213.8 L353.8,210.6 L353.8,209.5 L353.9,208.6 L354.2,208.7 L354.4,208.8 L354.5,208.2 L354.2,206.0 L354.6,206.9 L354.2,204.2 L354.2,203.4 L354.0,201.7 L353.9,200.5 L354.2,200.4 L354.0,199.0 L354.3,199.3 L354.5,198.9 L354.5,197.9 L354.6,197.6 L354.8,197.4 L354.9,196.9 L354.5,194.3 L354.6,194.1 L354.8,193.8 L354.6,192.2 L354.5,190.9 L354.8,191.2 L354.9,190.6 L354.8,189.4 L355.1,189.5 L355.1,188.8 L355.4,188.7 L355.0,186.4 L355.1,186.0 L354.7,183.4 L355.0,183.3 L356.0,186.1 L356.2,185.5 L356.7,186.3 L357.2,187.2 L357.9,188.2 L358.8,189.7 L359.6,191.3 L359.8,190.2 L360.1,191.5 L360.5,192.7 L360.8,194.0 L360.8,193.8 L361.2,195.6 L360.9,194.4 L361.2,195.6 L361.1,195.2 L361.6,196.8 L361.6,195.0 L362.4,196.3 L362.9,196.6 L363.1,195.5 L363.2,194.0 L362.9,190.8 L363.2,190.3 L363.4,189.2 L364.0,189.5 L364.3,189.1 L364.4,187.4 L364.5,186.1 L365.0,186.2 L365.8,187.4 L366.0,186.3 L365.9,184.0 L366.3,183.4 L366.6,182.8 L366.9,182.0 L366.8,179.7 L367.6,180.7 L367.9,180.0 L368.2,179.3 L368.3,177.6 L368.7,177.8 L368.9,177.4 L368.6,175.3 L368.9,175.3 L368.8,173.4 L368.5,170.9 L368.9,171.7 L368.8,170.0 L368.9,169.2 L368.9,168.0 L369.1,167.7 L369.3,167.0 L369.5,166.6 L369.7,166.4 L370.1,166.9 L370.2,165.8 L370.2,164.8 L370.1,163.2 L370.6,164.9 L370.9,165.9 L371.0,166.2 L370.9,165.5 L371.0,165.6 L371.4,167.1 L371.6,167.7 L371.9,168.7 L372.0,169.0 L372.1,169.5 L372.7,171.8 L373.0,173.2 L372.9,172.4 L373.2,173.8 L373.3,173.0 L373.2,171.8 L373.6,172.2 L373.6,171.3 L373.7,170.3 L373.5,168.5 L373.8,168.8 L373.9,168.0 L374.0,167.2 L373.8,165.5 L374.2,166.2 L373.5,162.1 L373.5,161.0 L373.4,159.8 L373.5,159.1 L373.7,158.6 L373.9,158.4 L374.1,158.1 L374.3,158.1 L374.8,158.7 L374.9,158.0 L374.8,156.9 L374.8,155.6 L374.9,155.1 L375.1,154.8 L374.9,153.0 L375.8,153.7 L376.1,152.2 L376.5,151.0 L376.1,149.8 L376.3,151.5 L376.4,152.3 L376.8,154.6 L377.0,156.0 L377.0,156.5 L377.0,157.4 L376.9,157.4 L376.7,157.3 L377.1,159.4 L376.8,158.8 L376.8,159.5 L376.6,159.7 L376.6,160.3 L376.8,161.5 L377.2,163.7 L377.0,163.6 L377.3,165.5 L376.9,164.5 L376.9,165.3 L377.2,167.2 L377.6,168.2 L378.3,170.4 L378.0,168.7 L378.5,170.2 L379.3,172.9 L379.4,172.9 L380.0,173.6 L380.3,173.0 L380.4,171.6 L380.1,168.9 L380.2,167.7 L380.9,168.6 L380.8,166.6 L380.8,165.0 L381.2,164.9 L381.9,165.0 L382.2,164.1 L382.5,162.4" class="s"/><text x="36.4" y="144.4" class="al">2.56</text><line x1="795.3" x2="442" y1="105.5" y2="105.5" class="g"/><line x1="795.3" x2="442" y1="192.5" y2="192.5" class="g"/><line x1="794.4" x2="441.6" y1="138.5" y2="138.5" class="a"/><text x="434.1" y="109.3" class="yl">1.0</text><text x="434.1" y="196.3" class="yl">0.5</text><text x="541.5" y="258.6" class="xl">2015</text><text x="686" y="258.6" class="xl">2020</text><path d="M451.0,139.7 L451.4,140.0 L451.7,139.9 L451.6,138.2 L451.4,136.2 L451.3,134.4 L451.6,134.0 L451.5,132.4 L451.5,130.8 L451.9,131.0 L452.2,131.0 L452.6,130.6 L452.6,128.9 L453.0,128.4 L453.4,127.8 L453.4,125.7 L454.0,126.1 L454.4,125.8 L454.8,125.7 L455.3,125.6 L455.4,124.0 L455.9,124.1 L456.1,122.8 L456.5,122.5 L456.6,120.7 L456.9,120.0 L457.2,119.2 L457.7,119.3 L457.9,118.1 L457.9,116.0 L458.4,115.8 L458.7,115.1 L459.1,114.9 L459.4,114.0 L459.7,113.1 L459.9,112.5 L460.0,111.5 L460.2,111.0 L460.0,108.8 L460.1,107.8 L460.2,106.8 L460.8,108.0 L460.8,106.5 L461.0,105.9 L461.2,105.2 L461.1,103.6 L460.9,101.2 L461.3,101.7 L461.3,100.5 L461.6,100.5 L461.4,98.2 L461.5,97.4 L462.0,98.1 L462.3,98.3 L461.9,95.6 L461.8,93.7 L462.0,93.4 L462.4,93.6 L462.5,92.9 L462.6,91.9 L463.1,91.7 L464.0,93.1 L464.3,94.9 L464.1,94.8 L463.8,94.2 L463.8,94.9 L464.2,97.0 L463.8,96.2 L464.0,97.7 L463.9,98.0 L464.1,99.3 L464.2,100.3 L464.3,101.5 L464.7,103.8 L464.7,104.4 L465.0,106.0 L464.8,105.9 L464.6,105.9 L464.7,107.0 L464.1,105.1 L464.4,106.9 L464.6,108.5 L464.4,108.4 L464.7,110.3 L464.7,110.8 L464.2,109.7 L464.5,111.5 L464.8,113.3 L464.7,113.3 L464.9,114.6 L465.4,117.0 L465.4,117.6 L465.4,118.2 L465.6,119.3 L465.2,118.2 L465.7,120.8 L465.5,120.5 L465.8,122.0 L465.6,121.9 L465.6,122.3 L465.8,123.4 L466.4,126.4 L466.3,126.6 L466.3,125.5 L466.4,124.3 L466.2,122.6 L466.5,122.2 L466.5,121.2 L466.9,121.4 L466.7,119.3 L466.8,118.7 L466.9,117.5 L467.0,116.6 L467.4,117.1 L467.5,116.4 L467.8,116.1 L468.1,116.1 L468.3,115.7 L467.9,112.8 L468.1,112.6 L468.0,110.9 L468.4,109.8 L469.3,111.1 L469.5,109.5 L469.8,108.1 L470.2,107.5 L470.6,106.5 L471.0,105.7 L471.1,104.0 L471.7,104.4 L472.0,103.2 L472.0,104.1 L472.1,105.0 L472.3,106.2 L472.5,107.5 L472.5,108.1 L472.7,109.0 L472.5,109.0 L472.3,108.7 L472.4,109.4 L472.8,111.5 L473.0,113.0 L473.0,113.4 L472.9,113.4 L473.1,114.5 L473.2,115.7 L473.8,116.4 L473.6,114.0 L473.7,112.9 L473.6,110.7 L473.6,109.4 L474.0,109.5 L474.3,109.0 L474.8,109.2 L474.9,108.3 L475.3,108.5 L475.6,108.2 L475.4,106.0 L475.2,103.9 L475.5,103.9 L476.3,105.5 L476.2,103.9 L475.9,101.3 L476.1,100.8 L476.5,101.2 L476.3,98.9 L476.6,98.9 L476.6,97.3 L476.9,97.0 L477.3,97.1 L477.5,95.9 L478.1,96.4 L478.0,94.1 L478.0,92.2 L478.6,93.0 L478.5,90.6 L479.0,93.4 L478.8,93.2 L478.5,92.6 L478.6,93.6 L478.7,94.6 L478.8,95.6 L478.8,96.1 L479.1,97.9 L478.5,96.2 L478.6,97.2 L478.7,98.4 L479.3,101.3 L478.7,99.8 L478.8,100.8 L478.7,101.1 L478.8,102.0 L479.2,104.0 L479.3,105.3 L479.7,107.3 L479.4,106.9 L479.5,107.8 L479.7,109.5 L479.8,110.6 L479.6,110.4 L479.9,112.0 L479.6,111.4 L480.0,113.8 L479.9,114.1 L479.8,114.0 L480.1,113.6 L480.4,113.3 L480.9,113.6 L480.9,111.7 L480.9,110.0 L481.2,109.6 L481.1,107.7 L481.0,105.6 L481.7,106.4 L481.9,105.2 L482.5,105.6 L482.5,103.5 L482.3,100.4 L483.0,101.1 L483.6,101.4 L484.0,101.9 L484.0,101.0 L484.0,100.0 L484.1,99.3 L484.0,97.7 L484.0,96.9 L483.7,94.8 L484.0,94.9 L483.9,93.4 L484.0,92.6 L484.3,92.8 L484.5,92.7 L484.2,90.5 L484.8,91.7 L484.5,89.6 L484.7,89.4 L484.9,89.0 L484.8,87.8 L484.8,86.7 L485.2,87.2 L485.2,86.3 L485.2,85.0 L484.6,81.9 L484.6,80.8 L485.1,81.5 L485.1,80.7 L484.9,78.8 L484.9,77.7 L485.0,77.1 L485.3,77.2 L485.4,76.7 L485.6,76.5 L485.4,74.5 L486.1,74.6 L486.5,72.9 L487.1,72.0 L487.8,72.8 L488.1,71.5 L488.4,70.2 L488.7,69.2 L489.0,68.3 L489.8,70.4 L490.3,71.8 L490.7,72.3 L490.9,72.5 L491.2,72.7 L491.3,73.7 L491.4,74.6 L491.5,75.4 L491.5,75.9 L491.9,78.0 L492.2,79.6 L492.2,80.4 L491.6,78.4 L492.1,81.0 L492.2,81.8 L492.0,81.5 L492.0,82.0 L492.4,83.9 L492.6,85.3 L492.7,86.1 L492.6,86.3 L492.6,86.7 L492.8,87.9 L492.7,88.2 L492.5,88.0 L492.5,88.5 L492.7,89.5 L492.9,90.9 L493.5,93.8 L493.0,92.5 L493.2,93.8 L493.3,94.3 L493.4,95.4 L493.7,97.3 L493.9,98.6 L493.8,98.4 L493.6,98.3 L493.4,97.9 L493.6,99.2 L494.1,101.5 L494.0,101.7 L494.3,101.5 L494.4,101.0 L494.5,100.1 L494.8,99.8 L494.7,98.2 L494.5,96.3 L494.4,94.6 L494.9,95.2 L494.9,94.0 L495.0,93.0 L495.3,93.1 L495.2,91.3 L495.7,92.3 L495.8,91.5 L495.7,89.6 L495.6,88.1 L496.0,88.4 L495.9,86.6 L496.0,86.7 L496.5,88.0 L496.9,89.2 L497.2,90.1 L497.7,91.3 L497.9,91.7 L498.1,90.8 L498.6,91.2 L498.9,90.5 L498.9,88.7 L499.5,89.3 L499.2,86.0 L499.5,85.6 L500.0,85.6 L500.2,84.8 L501.1,85.5 L501.8,85.3 L502.6,85.8 L503.1,86.5 L503.7,87.6 L503.5,85.5 L504.3,87.7 L504.9,88.9 L505.4,90.3 L505.9,91.7 L506.3,92.8 L506.4,92.8 L506.8,93.9 L507.0,94.2 L507.4,95.2 L507.6,95.8 L507.9,96.4 L509.1,97.7 L509.9,97.5 L510.1,94.7 L511.2,95.5 L510.9,93.5 L511.1,93.0 L511.1,92.1 L511.2,91.2 L511.4,91.1 L511.4,90.1 L511.2,88.2 L511.4,88.1 L511.7,88.0 L512.2,88.9 L512.0,87.0 L511.7,85.0 L511.8,84.2 L512.1,84.3 L511.9,82.6 L511.9,81.5 L512.2,81.7 L512.3,80.9 L512.4,80.3 L512.3,78.9 L512.2,77.5 L512.3,76.9 L512.4,76.3 L512.5,75.5 L512.7,75.3 L512.9,75.0 L513.0,74.5 L513.1,73.7 L512.9,71.7 L512.7,70.1 L513.1,70.5 L513.1,69.7 L513.5,68.9 L513.6,66.9 L514.0,66.3 L514.3,65.1 L514.7,64.8 L514.9,64.8 L515.0,64.9 L515.6,66.8 L516.3,69.2 L516.5,69.5 L516.6,70.4 L516.4,70.2 L516.7,72.1 L517.2,74.6 L516.7,73.6 L516.7,74.3 L517.1,76.5 L517.1,77.2 L517.1,77.6 L516.6,76.3 L516.8,77.7 L517.1,79.8 L517.5,81.8 L517.5,82.5 L517.2,82.2 L517.1,82.3 L516.8,81.7 L516.8,82.4 L517.3,85.1 L517.4,85.9 L517.1,85.6 L517.6,88.2 L517.2,87.2 L517.7,89.8 L517.6,90.1 L517.7,91.2 L517.9,92.5 L517.9,93.2 L518.1,94.9 L518.0,95.1 L517.9,95.2 L517.8,95.4 L517.5,95.1 L517.6,96.0 L518.0,98.4 L518.1,99.4 L518.5,100.0 L519.1,100.9 L518.9,99.2 L518.8,97.7 L518.4,94.9 L518.5,93.9 L519.1,95.2 L519.1,94.1 L519.0,92.5 L519.0,91.6 L518.6,88.8 L518.7,87.8 L518.6,86.5 L518.4,84.7 L519.0,85.9 L519.4,86.4 L519.4,85.2 L519.6,84.7 L519.4,82.9 L519.7,82.8 L519.8,82.2 L520.8,84.5 L521.5,86.0 L521.6,85.0 L521.8,86.1 L521.7,85.8 L521.7,86.2 L522.1,87.8 L522.3,89.1 L522.4,89.7 L522.8,91.8 L522.9,92.5 L522.9,92.6 L522.9,92.9 L523.0,93.6 L522.9,93.5 L522.9,93.8 L523.2,95.5 L523.4,96.4 L524.1,96.0 L525.3,97.4 L525.9,96.8 L526.5,97.2 L526.5,95.8 L527.0,96.0 L527.1,94.8 L526.8,91.8 L527.4,92.4 L527.5,91.1 L527.2,88.5 L527.8,89.0 L528.1,89.8 L528.1,89.6 L528.4,90.5 L528.9,92.4 L529.5,94.6 L529.9,95.9 L530.3,97.1 L530.6,98.0 L530.2,96.3 L530.8,94.8 L531.7,94.9 L531.9,92.1 L533.2,93.9 L533.7,95.4 L533.8,95.4 L534.1,96.1 L534.3,96.3 L534.8,97.7 L535.1,98.7 L535.5,99.7 L535.6,99.7 L536.2,101.5 L536.5,100.3 L537.2,100.6 L537.6,99.8 L537.6,97.3 L537.8,95.7 L538.6,96.3 L538.8,96.5 L539.3,98.1 L539.8,99.7 L540.0,100.1 L539.9,99.2 L540.1,99.5 L540.7,101.6 L541.0,102.4 L541.8,102.5 L542.2,101.7 L542.9,101.5 L543.1,99.9 L543.7,99.4 L544.1,98.1 L544.4,96.6 L545.2,97.2 L545.5,95.9 L546.0,94.9 L546.7,95.2 L546.8,94.3 L546.8,92.9 L547.2,93.1 L547.0,90.7 L547.6,91.6 L547.4,89.4 L547.5,88.4 L548.1,89.3 L547.9,87.4 L547.8,85.4 L548.1,85.5 L548.4,85.2 L548.4,83.0 L548.7,82.2 L549.0,81.3 L549.6,81.3 L549.4,80.9 L550.2,84.0 L550.1,84.0 L550.6,85.9 L550.3,85.1 L550.7,86.9 L550.6,86.5 L550.8,87.5 L551.2,89.3 L551.2,89.6 L550.9,88.9 L551.1,90.1 L551.3,91.5 L551.6,93.3 L551.5,93.2 L551.6,94.1 L551.8,95.3 L551.6,94.8 L551.8,96.3 L551.8,96.8 L552.2,98.6 L552.3,99.4 L552.3,100.2 L551.9,99.0 L552.2,100.7 L552.4,101.8 L552.4,102.2 L552.5,103.2 L552.8,104.6 L553.3,103.7 L554.1,103.9 L554.9,103.7 L555.3,102.2 L556.0,102.1 L556.6,103.9 L556.5,103.1 L556.8,103.8 L556.7,103.1 L557.2,104.5 L557.8,106.3 L558.3,108.2 L558.4,107.8 L558.4,107.1 L558.9,108.4 L559.7,110.9 L560.1,111.5 L560.7,113.3 L560.9,113.2 L561.8,114.2 L562.0,113.0 L562.1,110.8 L562.5,110.3 L563.0,109.9 L563.3,110.7 L563.1,109.4 L564.0,112.5 L564.3,113.1 L564.3,112.8 L564.5,113.0 L564.5,112.7 L565.2,115.0 L566.0,115.6 L566.5,115.5 L567.3,115.9 L568.0,116.3 L569.0,117.8 L569.6,118.2 L570.5,119.9 L570.8,119.0 L571.3,119.0 L572.0,119.8 L572.5,119.7 L573.2,120.7 L574.1,122.5 L574.7,123.0 L574.8,121.5 L575.5,121.9 L575.7,120.7 L576.3,121.0 L576.4,119.2 L576.5,117.5 L576.9,118.9 L577.3,120.0 L577.4,119.9 L577.6,120.7 L577.9,121.6 L578.3,122.5 L578.1,121.6 L578.6,123.1 L579.3,122.3 L580.3,122.6 L581.1,122.3 L581.0,121.3 L581.8,124.2 L582.1,124.6 L582.2,124.5 L582.9,127.2 L583.4,128.6 L583.8,129.6 L583.8,129.2 L584.6,130.7 L584.9,129.8 L585.5,130.5 L586.2,131.4 L586.9,132.4 L587.4,132.6 L587.6,131.0 L588.0,129.9 L588.4,129.1 L588.8,128.5 L589.1,127.1 L589.6,126.6 L590.0,125.5 L591.2,127.2 L592.2,128.4 L592.6,129.6 L592.5,128.6 L592.9,129.7 L593.5,131.8 L593.4,130.8 L593.6,131.3 L593.8,131.4 L594.7,134.7 L595.5,134.2 L596.2,133.4 L597.1,133.5 L597.4,132.5 L598.0,132.6 L598.5,132.5 L598.9,131.9 L599.1,130.6 L599.5,130.0 L599.8,129.3 L600.2,128.8 L600.1,125.9 L600.5,125.2 L600.9,124.4 L601.3,123.6 L601.6,122.4 L601.8,123.2 L602.2,124.5 L602.5,125.3 L602.8,126.1 L602.8,125.8 L602.8,125.8 L603.1,126.7 L603.2,126.6 L603.9,129.2 L604.3,127.5 L604.9,126.0 L605.5,124.8 L606.8,126.6 L606.9,126.5 L608.0,129.9 L608.4,131.0 L608.5,130.5 L608.7,130.8 L608.9,130.9 L609.2,131.4 L609.8,133.2 L610.1,133.7 L610.3,134.3 L610.9,136.3 L611.3,137.6 L611.9,139.8 L611.7,138.5 L612.0,139.5 L612.3,138.5 L612.2,136.3 L612.6,135.9 L612.7,134.2 L613.2,134.3 L614.3,136.5 L614.7,136.1 L614.7,134.2 L615.8,135.2 L615.9,132.0 L616.7,131.7 L617.4,130.8 L617.7,132.1 L617.7,131.7 L617.5,131.0 L618.4,134.7 L618.8,136.3 L619.0,136.7 L618.9,136.6 L619.2,137.5 L619.3,137.7 L620.4,138.8 L621.4,139.2 L622.3,139.3 L622.8,139.7 L623.4,140.5 L624.0,141.5 L624.5,141.9 L625.3,143.2 L626.2,144.0 L626.9,144.0 L627.6,144.0 L628.2,144.1 L628.7,144.2 L629.0,143.3 L628.8,140.1 L629.1,139.4 L629.7,139.5 L630.3,140.2 L631.2,141.8 L631.6,141.5 L632.2,142.1 L633.2,142.3 L633.3,139.3 L634.5,140.1 L634.8,140.4 L635.3,140.9 L635.7,141.4 L636.7,144.2 L637.0,144.3 L637.4,145.9 L637.2,145.1 L637.0,144.3 L637.3,145.7 L637.8,147.6 L637.9,148.0 L638.3,149.6 L638.6,151.2 L638.6,151.2 L638.8,152.0 L638.9,152.6 L639.8,154.0 L640.7,156.0 L641.2,156.2 L641.5,155.4 L642.1,155.5 L642.8,156.0 L643.8,157.7 L644.4,157.6 L645.0,159.6 L645.0,158.8 L645.4,159.8 L646.1,161.8 L646.8,163.8 L646.8,163.2 L647.3,164.3 L647.6,164.9 L648.2,167.3 L647.7,164.9 L648.0,166.2 L648.8,169.1 L648.5,167.9 L648.9,169.5 L648.6,168.0 L649.3,170.8 L649.3,170.5 L649.7,172.2 L649.9,172.9 L649.5,171.4 L649.6,171.7 L650.1,173.8 L650.0,173.7 L650.4,175.3 L650.5,175.7 L651.2,178.4 L651.2,178.5 L651.2,178.6 L651.6,180.4 L651.9,181.5 L652.1,182.3 L652.3,183.2 L652.5,184.2 L652.5,184.2 L652.4,183.9 L652.8,185.6 L652.9,186.2 L652.8,185.9 L653.4,188.1 L653.7,189.3 L653.8,189.8 L654.0,190.0 L654.4,190.8 L655.0,192.4 L655.5,193.6 L655.7,193.4 L656.1,194.2 L657.1,194.7 L658.2,195.4 L659.2,196.1 L659.9,195.1 L661.1,196.1 L662.4,197.3 L663.0,196.0 L663.2,195.6 L663.4,195.1 L663.1,192.4 L663.2,191.4 L663.8,192.6 L663.4,189.6 L663.3,188.0 L663.8,188.6 L663.8,187.1 L663.8,186.1 L663.8,184.6 L664.5,185.9 L664.4,184.2 L664.5,183.4 L664.7,182.5 L665.8,184.9 L666.5,185.9 L666.7,187.2 L667.2,189.3 L667.2,189.6 L666.9,188.9 L666.9,189.1 L667.2,190.5 L667.7,192.8 L667.4,192.2 L667.6,193.1 L667.7,194.1 L668.1,195.7 L667.9,195.6 L668.2,197.0 L669.4,197.1 L670.2,195.9 L670.5,195.1 L670.9,194.8 L671.2,194.2 L671.7,194.2 L671.5,191.6 L672.1,192.0 L672.2,190.5 L672.2,188.5 L672.6,188.1 L673.1,186.4 L674.0,186.6 L675.1,187.3 L675.1,184.6 L675.6,183.7 L676.5,184.6 L676.9,183.8 L677.6,183.7 L677.4,181.8 L677.6,181.3 L677.2,178.4 L677.4,178.0 L677.9,178.9 L678.4,179.4 L678.8,179.7 L678.6,178.0 L678.4,175.9 L678.5,174.9 L678.2,172.5 L678.8,173.8 L680.1,174.8 L680.7,173.6 L681.2,176.1 L680.9,175.0 L681.1,176.5 L681.0,176.4 L680.8,175.9 L681.2,177.9 L681.1,178.0 L681.7,180.6 L681.5,180.4 L681.7,181.6 L681.7,182.1 L682.0,183.5 L682.6,182.5 L683.6,183.1 L684.3,182.6 L684.6,182.0 L684.9,180.8 L685.6,181.7 L685.6,179.4 L685.8,178.0 L686.2,177.6 L686.9,176.9 L687.2,174.5 L688.1,174.6 L688.2,173.2 L688.4,171.8 L688.9,171.6 L689.2,170.8 L689.2,171.1 L689.1,171.3 L689.7,174.3 L689.6,174.6 L689.8,175.8 L689.9,176.7 L690.1,177.9 L690.0,178.2 L690.2,179.5 L690.2,180.0 L689.6,178.4 L690.0,180.3 L689.9,180.3 L690.3,182.7 L690.4,183.7 L690.4,184.1 L689.9,182.8 L690.3,184.9 L689.9,184.0 L690.2,185.7 L690.1,186.2 L690.9,189.8 L690.9,190.8 L690.9,191.2 L690.6,191.0 L690.7,191.8 L690.7,192.8 L690.7,193.5 L690.8,194.5 L691.1,196.3 L690.7,195.3 L690.9,196.9 L691.3,199.0 L690.9,198.3 L691.0,199.3 L691.0,200.0 L690.9,200.1 L691.3,202.5 L691.2,202.9 L691.6,204.9 L691.6,205.7 L691.5,205.9 L691.5,206.9 L691.4,207.2 L691.1,206.6 L691.7,209.4 L691.7,210.3 L692.0,211.9 L691.4,210.5 L691.8,212.7 L692.0,214.0 L691.9,214.3 L691.4,213.0 L691.7,215.2 L691.9,215.4 L692.2,216.6 L692.6,217.9 L693.0,218.8 L692.9,217.7 L693.1,217.2 L693.5,217.9 L693.4,216.5 L694.0,217.6 L693.5,214.6 L693.5,213.6 L693.8,213.9 L693.4,211.2 L693.7,211.3 L693.8,210.8 L693.7,209.3 L693.7,208.4 L694.2,209.2 L694.0,207.4 L694.1,206.8 L694.2,206.2 L694.5,206.2 L693.9,202.9 L694.1,202.5 L694.3,200.1 L695.0,200.1 L696.0,200.6 L696.3,200.5 L696.3,199.2 L696.8,199.7 L696.8,198.2 L697.1,197.7 L696.9,195.7 L697.3,195.7 L697.2,193.9 L697.7,194.3 L697.9,193.8 L698.4,194.1 L698.0,191.2 L698.0,191.2 L698.5,193.0 L698.7,193.9 L698.7,194.0 L698.6,193.7 L699.1,195.8 L698.9,194.9 L699.1,196.1 L699.7,198.4 L700.2,199.0 L700.9,200.3 L701.5,201.0 L701.9,200.8 L702.4,200.5 L702.7,199.7 L702.8,197.9 L702.8,195.8 L703.3,195.6 L703.6,194.1 L704.3,194.2 L705.1,194.6 L705.6,194.1 L705.8,192.2 L706.3,193.1 L706.6,193.7 L706.9,194.0 L707.6,196.1 L707.9,196.2 L708.6,197.4 L708.9,196.5 L709.0,195.0 L710.1,197.5 L710.7,197.4 L711.2,196.5 L711.7,195.9 L712.1,195.0 L712.7,194.7 L713.0,193.9 L713.7,194.6 L713.7,192.9 L713.8,191.5 L714.4,191.9 L714.7,191.1 L715.0,190.3 L715.2,189.3 L715.2,187.5 L715.9,188.5 L716.6,189.3 L717.1,189.6 L717.5,189.2 L718.0,189.4 L718.2,188.0 L718.4,186.8 L718.7,186.0 L718.9,184.8 L719.1,183.7 L719.6,183.5 L720.1,183.7 L720.5,182.6 L721.0,182.3 L721.1,180.1 L721.7,180.4 L721.9,178.5 L722.5,178.7 L722.5,177.2 L722.5,176.1 L722.3,174.6 L722.3,173.3 L722.6,173.2 L722.6,172.1 L722.8,171.8 L723.2,172.5 L723.0,170.7 L723.1,169.9 L723.2,169.2 L723.2,168.0 L723.3,167.5 L723.5,167.1 L723.8,167.3 L723.6,165.4 L723.7,164.4 L723.7,163.6 L724.1,164.0 L723.9,161.9 L724.0,161.4 L724.3,161.3 L724.4,160.7 L724.2,158.9 L724.2,157.1 L724.1,155.1 L724.4,154.8 L724.8,154.5 L724.8,152.9 L725.4,153.7 L725.7,153.2 L725.8,152.2 L725.9,151.0 L726.3,150.9 L726.5,149.8 L726.7,149.3 L727.1,149.6 L727.9,151.4 L727.9,150.3 L728.3,150.6 L729.2,153.1 L729.7,155.0 L730.0,156.7 L729.7,155.8 L730.0,157.0 L730.2,158.3 L730.4,159.3 L730.3,159.3 L730.7,161.1 L730.8,161.5 L730.5,160.6 L731.2,163.8 L731.0,163.1 L731.7,165.4 L731.7,164.9 L731.8,164.8 L732.4,166.5 L733.0,166.6 L733.1,164.7 L733.6,164.3 L733.7,162.3 L734.1,161.8 L734.5,163.1 L734.5,163.0 L735.1,164.9 L735.5,166.7 L735.8,167.4 L736.3,169.1 L736.4,169.4 L736.4,169.1 L736.7,170.1 L737.0,171.0 L737.2,171.8 L737.2,171.4 L737.4,172.3 L737.6,172.9 L738.6,176.5 L738.5,175.8 L739.0,174.9 L739.7,174.6 L739.8,172.0 L740.7,172.3 L742.0,174.4 L742.7,174.0 L743.2,174.5 L743.1,172.6 L743.3,172.0 L743.4,171.2 L743.0,168.0 L743.1,167.2 L743.9,168.8 L743.8,166.9 L744.2,167.3 L744.6,167.6 L744.5,165.8 L744.5,164.4 L745.3,164.2 L745.7,162.3 L746.4,161.6 L746.7,163.0 L746.5,162.6 L746.5,163.2 L746.4,163.1 L746.6,164.3 L746.9,165.7 L746.9,165.9 L746.7,165.6 L747.2,168.1 L747.7,170.4 L747.5,170.0 L747.7,171.1 L747.7,171.4 L747.3,170.1 L748.1,173.8 L748.2,175.0 L747.9,174.3 L748.4,176.7 L748.5,177.9 L748.7,179.5 L748.8,180.2 L748.7,180.7 L748.9,182.2 L748.7,181.8 L748.7,182.4 L748.4,181.9 L748.3,182.0 L748.5,183.6 L748.7,184.8 L748.4,184.2 L748.6,186.1 L749.0,188.0 L748.7,187.4 L748.7,188.2 L749.2,190.9 L748.9,190.4 L749.1,191.8 L749.1,192.5 L749.3,192.0 L749.3,191.0 L749.4,190.5 L749.4,189.6 L749.4,188.6 L749.0,186.3 L749.2,186.2 L749.1,184.8 L749.6,185.8 L750.1,186.6 L750.1,185.7 L749.4,181.9 L749.7,182.2 L749.7,181.3 L749.4,179.3 L749.3,177.8 L749.7,178.6 L749.6,177.2 L749.7,176.5 L749.8,175.9 L750.1,176.0 L749.4,172.5 L749.9,173.7 L749.8,172.1 L749.8,171.3 L750.1,171.3 L750.2,170.8 L749.7,167.7 L750.1,168.3 L750.2,167.5 L750.1,165.9 L750.2,165.0 L750.0,163.3 L750.5,164.1 L751.0,164.8 L750.8,162.9 L750.7,161.6 L750.5,159.7 L750.6,158.9 L750.6,157.8 L750.9,157.7 L751.5,158.9 L751.4,157.5 L751.9,159.5 L751.6,158.7 L752.0,160.2 L751.9,160.0 L751.9,160.1 L752.3,162.0 L752.5,162.7 L753.2,165.7 L753.2,165.7 L753.0,165.3 L753.3,166.9 L752.9,166.2 L753.2,167.8 L753.5,169.9 L753.4,169.9 L753.2,169.9 L753.5,171.7 L753.2,171.1 L753.3,172.4 L753.2,172.7 L753.4,174.0 L753.2,174.1 L753.5,175.7 L753.6,177.0 L754.0,179.1 L753.7,178.7 L753.8,179.6 L753.3,178.4 L753.3,179.1 L753.6,180.7 L753.3,180.5 L753.5,181.9 L753.4,182.3 L753.7,184.1 L753.9,185.6 L753.8,185.8 L754.0,187.3 L753.9,187.4 L754.0,188.4 L754.4,189.7 L754.7,190.7 L755.0,191.7 L755.6,193.6 L755.5,192.8 L755.7,193.2 L755.5,192.3 L756.2,194.6 L756.7,193.1 L757.6,192.7 L758.6,193.0 L758.9,194.0 L759.1,194.6 L759.4,195.4 L759.7,196.5 L760.0,197.1 L760.3,198.2 L760.7,197.9 L761.3,198.5 L761.8,198.4 L762.8,200.7 L763.6,202.1 L764.3,203.0 L764.9,203.4 L765.3,203.2 L765.9,203.0 L766.1,200.8 L766.2,198.5 L766.7,198.1 L767.9,200.0 L768.5,199.6 L769.2,200.2 L769.1,198.1 L769.6,198.2 L770.2,198.4 L770.5,197.7 L770.7,196.2 L771.1,195.8 L771.0,193.6 L771.7,194.5 L771.5,191.8 L771.7,190.4 L772.1,189.9 L772.2,188.6 L773.0,189.9 L773.4,189.2 L773.4,187.2 L774.0,188.0 L774.4,187.7 L774.3,185.7 L774.7,185.9 L775.0,185.4 L774.9,183.2 L774.9,181.6 L775.2,181.2 L775.7,181.3 L776.1,181.5 L776.1,179.5 L776.4,178.8 L776.3,176.1 L776.3,174.3 L777.3,175.9 L777.7,175.3 L778.2,177.4 L778.3,177.5 L778.4,178.0 L778.7,179.0 L779.0,179.9 L779.1,180.0 L779.0,178.5 L778.9,176.7 L779.2,176.7 L779.4,176.0 L779.9,176.7 L779.6,174.5 L779.3,172.1 L779.2,170.4 L779.7,170.9 L780.3,172.3 L780.3,170.9 L780.3,169.4 L780.5,169.2 L781.0,169.8 L780.9,168.2 L781.6,168.5 L782.0,167.7 L782.1,165.4 L782.2,166.4 L782.3,167.4 L782.8,169.6 L782.1,167.6 L782.2,168.3 L782.5,170.0 L782.6,170.7 L782.7,171.6 L782.7,172.3 L782.6,172.5 L783.0,174.3 L783.4,176.3 L783.3,176.4 L783.4,177.5 L783.7,179.1 L783.5,178.7 L783.9,179.3 L784.0,178.9 L784.8,181.6 L785.5,183.5 L785.5,182.6 L786.3,183.8 L786.6,182.7 L786.3,179.3 L786.8,179.2 L787.1,178.5 L787.5,177.6 L788.4,177.7 L788.9,176.2" class="s"/><text x="442.8" y="132.4" class="al">0.81</text><line x1="388.1" x2="41.8" y1="311" y2="311" class="g"/><line x1="388.1" x2="41.8" y1="363" y2="363" class="g"/><line x1="388.1" x2="41.8" y1="415" y2="415" class="g"/><line x1="388.1" x2="41.8" y1="467" y2="467" class="g"/><line x1="388.1" x2="41.8" y1="519" y2="519" class="g"/><line x1="387.8" x2="41.5" y1="399.3" y2="399.3" class="a"/><text x="34.1" y="314.8" class="yl">10.0</text><text x="34.1" y="366.8" class="yl">8.0</text><text x="34.1" y="418.8" class="yl">6.0</text><text x="34.1" y="470.8" class="yl">4.0</text><text x="34.1" y="522.8" class="yl">2.0</text><text x="139.8" y="532.9" class="xl">2015</text><text x="281.5" y="532.9" class="xl">2020</text><path d="M50.9,414.3 L51.3,414.6 L51.6,414.5 L51.5,412.8 L51.4,410.7 L51.2,408.9 L51.5,408.6 L51.4,407.0 L51.4,405.4 L51.8,405.6 L52.1,405.5 L52.4,405.1 L52.4,403.3 L52.7,402.8 L52.9,402.1 L52.8,400.1 L53.3,400.4 L53.7,400.0 L54.4,401.3 L54.2,398.8 L54.3,399.7 L54.6,401.4 L54.6,401.7 L54.8,402.9 L54.7,402.8 L54.8,403.6 L55.1,405.2 L55.2,406.1 L55.2,406.5 L55.0,405.9 L55.2,407.4 L55.3,408.2 L55.6,408.0 L55.6,407.1 L55.9,407.0 L55.8,405.5 L55.9,404.6 L56.0,404.1 L55.8,401.9 L55.8,400.9 L55.8,399.9 L56.5,401.3 L56.4,399.8 L56.5,399.2 L56.6,398.5 L56.5,397.0 L56.4,395.4 L57.0,396.8 L57.3,397.2 L57.8,398.5 L57.6,398.2 L57.6,399.0 L58.1,401.3 L58.4,403.1 L57.9,402.0 L57.7,401.7 L57.9,403.1 L58.2,404.9 L58.3,405.7 L58.4,406.7 L58.1,406.4 L58.4,408.0 L58.7,409.8 L58.5,409.7 L58.2,409.1 L58.2,409.7 L58.6,411.8 L58.3,411.1 L58.5,412.5 L58.6,413.8 L58.6,412.6 L58.7,411.9 L58.8,411.5 L59.2,412.2 L59.3,411.3 L59.5,411.2 L59.3,409.5 L59.2,407.9 L59.3,407.4 L58.7,403.9 L59.0,404.1 L59.2,404.0 L59.1,402.4 L59.4,402.7 L59.4,401.5 L59.0,398.8 L59.2,399.0 L59.3,398.1 L59.4,397.6 L59.6,397.3 L60.0,398.0 L60.0,397.1 L60.0,395.9 L60.1,395.5 L59.7,392.8 L60.2,393.7 L60.0,391.8 L60.2,391.7 L60.0,389.9 L60.0,388.6 L60.1,388.1 L60.7,389.5 L60.8,388.9 L60.6,386.9 L60.6,385.8 L60.4,384.0 L60.6,383.7 L60.6,382.7 L60.9,382.9 L60.6,380.8 L60.7,380.2 L60.7,379.0 L60.7,378.1 L61.1,378.5 L61.2,377.9 L61.4,377.5 L61.6,377.5 L61.8,377.1 L61.3,374.3 L61.5,373.8 L62.0,372.3 L63.1,373.4 L63.5,375.8 L63.4,375.9 L63.3,376.1 L63.4,377.1 L63.4,377.9 L63.4,378.7 L63.3,378.8 L63.7,380.9 L63.8,382.2 L63.7,382.3 L63.8,383.2 L63.9,384.4 L64.1,385.8 L64.0,386.3 L64.1,387.2 L63.9,387.3 L63.7,386.9 L63.7,387.6 L64.1,389.7 L64.3,391.2 L64.2,391.7 L64.0,391.6 L64.2,392.8 L64.6,395.0 L64.7,396.3 L64.4,395.5 L64.3,396.1 L64.0,395.5 L63.9,395.8 L64.3,398.0 L64.4,398.7 L64.7,400.5 L65.0,402.2 L65.1,403.1 L65.3,404.3 L65.1,403.7 L64.8,403.2 L65.1,404.8 L65.8,407.9 L65.7,407.9 L65.3,406.9 L65.5,408.0 L65.9,410.0 L65.6,409.3 L65.8,410.9 L65.7,410.9 L66.1,412.9 L66.3,413.9 L66.3,414.4 L66.3,415.1 L66.5,414.3 L66.3,412.4 L66.9,413.3 L66.6,410.9 L67.2,412.0 L67.1,410.2 L66.8,408.0 L67.0,407.3 L67.1,406.6 L67.3,405.9 L67.3,404.8 L67.7,405.0 L67.5,402.6 L67.4,401.0 L67.6,400.6 L68.3,401.8 L67.9,398.7 L68.1,398.1 L68.1,396.7 L68.2,396.0 L68.7,396.4 L68.9,396.1 L69.4,396.4 L69.2,394.4 L69.3,393.5 L69.8,395.4 L70.1,396.5 L70.1,396.4 L70.5,397.9 L70.3,397.3 L70.7,398.8 L70.9,398.5 L70.9,397.1 L71.1,396.3 L71.3,396.0 L71.8,396.3 L71.6,394.4 L71.6,392.8 L71.8,392.4 L71.7,390.8 L71.5,390.0 L72.0,392.3 L72.0,392.9 L72.5,394.9 L72.3,394.5 L71.8,392.9 L72.3,395.3 L72.6,396.9 L73.2,399.4 L73.3,400.2 L73.3,400.8 L73.3,401.1 L73.4,400.1 L73.5,399.3 L73.3,397.2 L73.6,397.3 L73.5,395.8 L73.6,395.0 L74.0,395.2 L74.3,395.1 L74.0,393.0 L74.6,394.1 L74.4,392.1 L74.7,391.8 L74.9,391.5 L74.9,390.2 L74.8,388.7 L75.5,389.6 L75.7,388.7 L75.8,387.4 L75.5,384.3 L75.7,383.2 L76.2,383.7 L76.5,383.1 L76.4,381.3 L76.5,380.2 L76.7,379.5 L77.1,379.6 L77.3,379.1 L77.6,379.0 L77.5,376.9 L77.7,376.5 L77.7,377.0 L77.7,377.5 L78.2,380.0 L78.1,380.3 L78.0,380.6 L77.9,381.1 L77.9,381.6 L78.3,383.9 L78.6,385.4 L78.6,386.1 L78.5,386.3 L78.6,387.5 L78.5,387.6 L78.5,388.5 L78.6,389.3 L78.5,389.8 L78.9,391.9 L79.1,393.5 L79.2,394.3 L78.5,392.3 L78.8,393.9 L79.1,395.7 L78.9,395.4 L78.9,396.1 L79.2,397.9 L79.5,399.3 L79.5,400.1 L79.5,400.3 L79.4,400.7 L79.6,402.1 L79.5,402.3 L79.4,402.1 L79.4,402.7 L79.5,403.8 L79.7,405.2 L80.3,408.1 L79.9,406.8 L80.1,406.4 L80.3,405.3 L80.5,404.6 L80.9,404.8 L81.2,404.5 L81.1,402.6 L81.1,400.9 L80.9,398.8 L81.2,398.4 L81.7,398.5 L81.9,397.6 L82.2,397.4 L82.5,396.9 L82.7,395.9 L83.1,395.7 L83.1,394.1 L83.0,392.2 L83.0,390.5 L83.6,391.0 L83.6,389.8 L83.6,388.9 L83.9,389.0 L83.7,387.2 L84.2,388.2 L84.3,387.3 L84.1,385.4 L84.0,383.9 L84.3,384.3 L84.0,382.1 L84.0,381.0 L84.2,380.6 L84.4,380.2 L84.4,379.4 L84.6,379.0 L84.5,377.7 L84.6,376.8 L85.0,377.2 L85.1,376.5 L84.9,374.8 L85.3,375.4 L84.7,372.0 L84.9,371.7 L85.2,371.6 L85.4,371.5 L85.4,370.3 L85.3,368.8 L85.8,368.6 L86.0,367.4 L86.4,367.1 L86.1,363.6 L86.9,364.8 L86.9,363.1 L87.4,363.6 L87.7,363.4 L87.9,362.9 L87.9,361.2 L88.1,360.7 L88.1,359.4 L88.4,358.7 L88.5,357.7 L88.5,357.8 L89.3,360.8 L89.6,361.8 L89.2,360.2 L89.8,362.3 L89.7,361.9 L90.1,363.6 L90.1,363.7 L90.1,364.5 L90.4,366.0 L90.5,366.7 L90.3,366.4 L90.6,367.9 L90.9,369.5 L91.4,371.9 L91.2,371.7 L91.0,371.3 L91.1,372.1 L91.4,373.8 L91.4,373.8 L91.4,374.3 L91.8,376.0 L91.9,376.8 L92.0,377.9 L92.0,378.0 L92.0,378.3 L92.1,379.2 L92.3,380.3 L92.4,381.0 L92.7,382.5 L92.9,383.8 L93.1,384.8 L93.3,385.7 L93.1,385.3 L93.0,385.2 L93.4,387.2 L93.5,386.5 L93.6,385.8 L93.4,383.9 L93.5,383.3 L93.5,382.3 L93.5,381.1 L93.6,380.3 L93.5,378.8 L93.8,379.0 L94.2,379.7 L94.1,378.1 L94.2,377.5 L94.1,375.8 L94.4,376.1 L94.9,376.9 L94.5,374.3 L94.6,373.3 L95.0,374.0 L95.0,373.0 L94.9,371.5 L94.8,370.6 L95.3,371.9 L95.9,374.0 L96.5,376.0 L96.8,376.7 L96.9,376.2 L96.9,374.9 L96.8,372.6 L97.0,371.7 L97.7,372.8 L97.9,371.9 L97.8,370.0 L98.5,370.9 L98.3,368.4 L98.8,369.0 L99.0,368.0 L99.4,367.5 L99.7,367.3 L99.9,366.4 L100.4,366.5 L100.5,365.0 L100.6,363.6 L100.7,362.5 L101.0,361.9 L101.7,362.8 L102.7,365.1 L103.3,366.7 L103.9,368.4 L104.7,370.9 L104.8,370.9 L105.0,371.0 L104.9,370.0 L105.5,370.3 L106.6,373.1 L107.1,373.3 L107.5,372.7 L108.4,372.8 L108.7,370.5 L109.4,370.1 L110.4,370.6 L109.9,367.4 L110.4,368.6 L110.8,369.1 L110.8,368.0 L110.9,367.5 L110.7,365.6 L110.9,365.5 L111.1,365.4 L111.5,365.6 L111.7,365.4 L111.6,364.0 L111.4,362.3 L111.1,360.3 L111.1,359.1 L111.3,359.1 L111.5,358.8 L111.5,357.7 L111.9,358.2 L111.9,357.2 L111.8,355.7 L111.7,354.3 L111.7,353.5 L111.5,351.7 L111.4,350.3 L111.7,350.4 L111.6,349.2 L111.7,348.5 L112.1,349.1 L112.0,347.7 L112.4,348.0 L112.2,346.6 L112.6,346.8 L112.5,345.6 L112.0,342.6 L112.4,343.3 L112.3,341.8 L112.5,339.5 L113.3,339.7 L114.1,339.6 L114.7,338.8 L114.5,338.9 L114.8,340.7 L115.2,342.9 L115.4,344.3 L115.5,345.4 L115.6,346.3 L114.9,344.0 L114.9,344.6 L115.1,346.2 L114.6,344.8 L115.1,347.5 L115.5,349.5 L115.3,349.5 L115.3,350.2 L115.2,350.4 L115.4,351.7 L115.5,352.8 L115.6,353.8 L115.5,353.8 L115.7,355.5 L115.7,356.1 L116.0,357.9 L116.1,358.8 L115.9,358.6 L115.6,357.9 L115.9,359.7 L115.9,360.5 L116.2,362.1 L116.4,363.7 L116.4,364.3 L116.0,363.4 L115.9,363.7 L116.3,365.9 L116.2,366.0 L116.6,368.3 L116.6,368.9 L116.7,370.1 L116.5,369.9 L116.6,370.9 L116.0,369.2 L116.3,371.1 L116.7,373.3 L116.6,373.5 L116.6,374.0 L116.9,375.9 L117.0,375.0 L116.9,373.6 L117.2,373.8 L116.9,371.5 L117.4,372.3 L117.1,370.1 L117.1,369.1 L117.7,370.1 L117.4,368.1 L117.2,366.1 L117.5,366.2 L117.5,365.0 L117.5,363.8 L117.6,363.1 L117.6,362.3 L117.7,361.3 L117.7,360.4 L118.3,361.8 L118.2,360.2 L118.5,360.5 L118.4,358.7 L119.0,358.1 L119.3,356.2 L120.1,356.1 L120.3,357.4 L120.3,357.7 L120.0,357.0 L120.2,358.3 L120.5,359.7 L120.8,361.6 L120.7,361.5 L120.9,362.5 L121.1,363.8 L120.9,363.3 L121.2,364.8 L121.2,365.4 L121.6,367.5 L122.3,367.9 L123.0,368.5 L123.3,367.1 L124.5,369.5 L124.5,368.1 L124.6,366.9 L124.8,366.2 L124.8,364.8 L125.2,364.9 L125.7,365.0 L126.0,364.6 L125.9,363.0 L126.5,363.7 L126.5,362.0 L126.4,360.6 L126.5,359.7 L126.3,357.4 L126.6,357.2 L127.0,357.4 L127.4,357.7 L127.2,356.0 L126.9,353.4 L127.2,353.1 L127.7,353.9 L127.8,352.9 L127.9,352.1 L128.7,353.9 L129.3,355.3 L129.7,355.6 L129.8,354.9 L130.3,355.5 L131.5,358.5 L131.7,357.5 L131.8,356.0 L132.8,358.2 L133.3,359.6 L133.3,359.4 L133.4,359.7 L133.4,359.3 L134.1,361.5 L134.4,362.6 L134.5,361.2 L134.6,360.3 L134.8,359.4 L135.3,359.9 L135.4,358.7 L135.9,359.1 L135.8,356.9 L135.8,355.5 L136.1,355.0 L136.3,353.5 L136.7,352.9 L137.4,353.1 L137.7,352.1 L137.8,352.2 L138.3,354.3 L138.4,354.7 L138.8,356.7 L138.8,356.5 L138.7,356.2 L139.1,357.9 L139.4,359.0 L139.3,359.0 L140.0,358.4 L140.6,357.9 L141.3,357.5 L141.7,356.0 L141.8,353.9 L142.5,354.1 L143.2,354.0 L143.6,352.9 L144.1,352.1 L144.5,352.1 L144.7,350.9 L144.7,349.1 L145.4,350.2 L145.9,349.9 L146.2,349.3 L146.1,347.3 L146.4,347.3 L146.1,345.0 L146.3,344.2 L146.4,343.7 L146.6,343.3 L146.8,342.6 L146.5,340.5 L146.6,339.3 L146.7,338.6 L146.8,337.9 L146.8,336.6 L146.6,334.6 L146.7,333.7 L147.1,334.2 L147.4,334.2 L147.6,333.8 L147.2,331.2 L147.4,330.8 L147.8,331.3 L147.4,328.7 L147.4,327.7 L147.3,326.3 L148.0,327.7 L148.1,327.1 L148.0,325.8 L148.2,325.4 L148.3,324.6 L148.6,324.7 L148.8,324.7 L149.0,324.0 L148.9,322.8 L149.0,322.2 L149.1,321.5 L149.3,321.1 L148.9,318.2 L149.0,319.2 L149.0,320.1 L149.1,321.0 L149.1,321.5 L149.1,322.3 L149.3,323.6 L149.3,324.4 L149.3,325.2 L149.1,324.9 L149.0,324.9 L149.0,325.7 L148.8,325.6 L149.0,327.0 L149.1,327.9 L148.9,327.9 L148.8,328.1 L149.1,329.9 L149.3,331.1 L150.0,334.7 L150.1,335.8 L149.8,335.3 L149.8,335.6 L149.8,336.5 L149.9,336.3 L150.3,337.3 L150.8,338.4 L151.1,338.9 L151.6,340.6 L152.1,340.3 L152.8,340.9 L152.5,337.8 L152.9,337.1 L153.5,336.0 L153.8,333.8 L154.7,334.0 L154.4,333.2 L154.7,334.9 L155.6,338.7 L155.8,339.9 L156.0,341.3 L156.1,341.9 L155.5,340.2 L155.7,341.4 L155.8,342.1 L156.0,343.2 L155.8,342.8 L155.9,343.5 L156.4,345.8 L156.8,347.4 L156.8,347.9 L156.8,347.8 L157.0,348.8 L156.8,348.4 L157.3,350.6 L157.5,351.4 L157.6,352.0 L157.7,352.7 L158.0,351.8 L158.4,351.3 L158.6,350.1 L159.2,350.4 L159.4,349.5 L159.7,348.4 L159.8,346.8 L160.3,346.9 L160.8,349.0 L160.9,349.7 L160.5,348.2 L160.7,349.0 L161.2,351.1 L161.4,351.7 L161.8,353.5 L161.7,353.3 L162.1,354.6 L162.2,355.5 L162.0,354.7 L162.0,353.1 L162.2,352.7 L162.3,351.7 L162.4,350.5 L163.0,351.7 L163.0,350.4 L163.3,350.2 L163.1,347.7 L162.8,345.4 L163.1,345.1 L163.5,345.4 L163.5,344.1 L163.9,344.2 L164.9,345.3 L165.5,345.0 L166.4,345.4 L167.0,345.2 L168.1,346.9 L169.0,347.4 L169.7,348.9 L169.9,348.5 L170.2,348.5 L170.7,349.1 L171.3,350.6 L171.3,350.8 L171.7,353.1 L171.4,352.3 L171.6,353.3 L172.0,355.4 L172.3,357.3 L172.1,356.8 L172.3,357.9 L172.8,360.5 L172.8,361.0 L172.1,358.6 L172.3,359.9 L172.9,362.9 L172.5,361.7 L172.8,363.2 L172.3,361.8 L172.9,364.6 L172.7,364.3 L173.0,366.1 L173.1,366.7 L172.9,363.6 L173.1,362.4 L173.7,362.9 L173.8,361.2 L174.4,361.2 L174.8,360.9 L175.9,362.3 L176.5,362.0 L177.3,362.3 L177.8,363.5 L178.5,365.4 L178.8,365.6 L179.2,366.4 L179.6,367.5 L179.9,367.6 L180.2,367.2 L181.0,368.9 L181.5,369.4 L181.9,369.1 L182.8,371.2 L183.1,372.4 L183.3,373.2 L183.2,373.1 L183.4,373.9 L183.8,375.5 L184.0,376.6 L184.0,376.4 L184.0,376.5 L184.3,378.1 L184.6,379.2 L184.9,380.7 L184.8,380.1 L185.2,382.0 L185.4,383.0 L186.0,383.4 L186.1,381.9 L186.4,381.5 L186.2,378.9 L186.4,377.9 L187.1,379.2 L186.8,376.3 L187.1,375.7 L187.7,376.9 L188.1,377.0 L188.5,377.5 L188.8,377.6 L189.8,380.1 L190.2,379.0 L190.6,378.0 L190.7,375.8 L191.6,376.6 L192.1,376.1 L192.6,377.3 L193.2,379.4 L193.4,379.7 L193.3,378.9 L193.5,379.1 L194.1,380.9 L195.0,381.1 L195.3,378.8 L196.0,378.4 L196.1,377.4 L196.5,377.4 L196.4,375.6 L196.6,375.4 L197.0,375.4 L197.0,374.2 L197.1,373.2 L197.4,372.9 L197.6,372.4 L197.9,372.3 L197.6,369.8 L198.0,370.2 L198.0,368.7 L198.0,367.3 L198.2,367.4 L198.4,367.4 L199.0,368.7 L199.7,370.9 L199.9,370.6 L199.7,370.0 L200.2,372.4 L200.4,373.2 L200.8,375.0 L200.6,374.4 L200.9,375.6 L200.5,374.3 L200.8,375.6 L201.4,378.1 L201.9,380.2 L202.3,382.2 L202.1,381.4 L202.7,380.2 L203.3,379.4 L203.7,377.2 L204.9,378.7 L205.4,380.6 L205.2,380.1 L205.7,382.7 L205.4,381.6 L205.7,383.1 L205.6,383.1 L205.4,382.6 L205.9,384.6 L205.8,384.7 L206.4,387.2 L206.3,387.1 L206.6,388.3 L206.6,388.9 L206.8,390.1 L206.9,390.4 L207.3,392.3 L207.5,393.5 L207.5,393.8 L208.1,394.4 L209.1,396.7 L209.4,395.8 L209.9,396.0 L210.2,395.9 L210.3,394.8 L210.0,392.4 L210.3,392.0 L210.4,391.3 L210.4,389.9 L210.8,389.9 L210.7,388.4 L211.0,387.9 L211.0,386.6 L211.6,387.9 L211.7,386.6 L211.9,386.1 L212.1,385.4 L212.3,385.0 L212.3,383.7 L212.4,382.9 L212.7,382.3 L212.3,379.0 L212.8,379.3 L212.8,377.6 L213.4,378.4 L213.6,377.7 L213.7,376.5 L213.3,373.5 L213.3,371.8 L214.1,373.2 L214.0,373.1 L214.1,373.6 L215.0,377.3 L215.2,378.3 L215.3,378.8 L215.2,378.6 L215.4,379.5 L215.6,380.5 L215.7,381.2 L216.0,382.6 L216.7,384.1 L216.9,383.1 L217.7,385.1 L218.0,386.7 L217.7,386.0 L217.8,387.0 L217.9,387.7 L217.8,387.8 L218.2,390.1 L218.2,390.6 L218.6,392.5 L218.7,393.3 L218.6,393.5 L218.7,394.4 L218.6,394.7 L218.3,394.1 L218.9,396.9 L219.0,397.8 L219.3,399.4 L218.8,397.9 L219.2,400.1 L219.4,401.4 L219.3,401.4 L219.0,400.4 L219.4,402.0 L219.6,402.6 L219.8,403.7 L220.1,404.9 L220.1,405.1 L220.4,406.3 L220.7,407.4 L221.1,409.0 L222.0,409.6 L222.9,410.4 L223.1,410.6 L223.5,411.1 L224.2,412.9 L224.1,411.7 L224.7,413.3 L225.1,412.9 L225.2,411.3 L225.5,410.4 L226.3,411.2 L226.4,409.4 L226.7,408.5 L227.0,409.8 L227.4,411.4 L226.9,409.7 L226.9,409.7 L227.0,410.2 L227.4,411.8 L227.9,413.8 L228.3,415.5 L228.3,415.7 L229.5,417.1 L230.2,416.4 L230.9,416.1 L231.0,414.7 L231.5,414.6 L231.5,412.8 L232.0,413.1 L232.3,412.6 L232.9,412.8 L232.6,409.9 L232.5,408.2 L232.9,408.3 L233.1,407.6 L233.0,406.0 L232.9,404.1 L233.4,404.5 L233.3,403.1 L233.2,401.5 L233.6,402.3 L233.6,401.2 L233.7,400.8 L233.8,400.3 L233.9,399.7 L234.1,399.5 L234.1,398.6 L233.9,396.9 L233.6,394.8 L233.7,394.1 L233.6,393.1 L233.9,393.1 L234.2,393.5 L234.3,392.9 L234.0,390.9 L234.1,390.3 L234.1,389.4 L234.0,388.1 L234.4,388.6 L234.4,387.9 L234.4,387.0 L234.2,385.0 L233.7,383.4 L233.9,384.7 L234.5,387.6 L234.6,388.2 L234.7,389.2 L234.7,389.8 L235.0,391.2 L235.1,391.9 L235.5,394.2 L235.4,394.2 L235.4,394.4 L235.8,396.5 L235.9,397.3 L236.0,398.1 L235.8,398.0 L236.5,398.8 L237.1,399.4 L237.8,400.2 L238.2,400.2 L238.4,399.2 L239.5,401.7 L240.0,401.7 L240.6,402.2 L240.6,402.6 L240.7,403.0 L240.7,403.5 L241.0,404.8 L241.4,406.8 L241.5,407.2 L241.7,408.4 L241.5,407.8 L241.9,409.8 L241.8,409.5 L242.2,411.3 L242.3,411.8 L242.5,412.0 L242.6,412.1 L242.8,412.5 L243.3,414.0 L243.6,414.5 L244.2,416.6 L244.5,418.2 L244.4,418.1 L244.6,418.8 L244.7,419.8 L244.8,420.3 L245.0,421.4 L245.2,422.6 L245.6,424.4 L245.5,424.2 L245.6,424.9 L245.7,425.7 L246.1,427.7 L245.9,427.2 L246.1,428.3 L246.3,429.5 L246.7,431.0 L246.6,430.8 L246.5,430.8 L246.4,430.4 L246.7,431.8 L247.0,433.2 L247.0,433.3 L247.6,435.8 L247.8,436.9 L248.0,437.7 L247.9,436.4 L248.1,436.3 L248.0,435.2 L248.1,434.9 L248.0,433.5 L248.3,433.8 L247.9,431.1 L247.7,429.8 L248.3,431.3 L248.5,431.1 L248.7,431.1 L248.3,428.6 L248.4,428.2 L248.6,427.8 L248.6,427.2 L248.4,425.5 L248.7,425.7 L248.6,424.5 L248.2,421.9 L248.8,423.5 L248.6,421.9 L248.8,421.7 L248.4,419.5 L248.2,417.7 L248.5,417.9 L248.6,417.6 L248.4,415.7 L248.5,415.2 L248.2,413.1 L247.8,410.9 L248.4,412.2 L248.2,410.5 L248.5,411.0 L248.8,411.1 L248.7,410.2 L249.0,410.4 L248.9,409.0 L248.8,407.9 L248.7,406.6 L248.8,406.0 L248.8,405.1 L248.5,403.2 L248.6,402.5 L248.5,401.5 L249.3,403.5 L249.3,402.7 L248.9,400.2 L248.8,399.1 L248.5,398.5 L248.8,399.9 L249.3,402.6 L249.2,402.9 L249.5,404.5 L249.3,404.3 L249.5,405.3 L249.5,406.1 L249.0,404.6 L249.1,405.4 L249.8,408.7 L249.6,408.4 L250.0,410.4 L250.3,412.4 L250.2,412.2 L250.4,413.5 L250.4,414.0 L250.2,413.7 L250.4,415.0 L250.5,416.0 L250.3,415.6 L250.4,416.7 L250.2,416.2 L250.5,417.5 L250.8,418.8 L250.8,419.1 L250.7,418.9 L251.3,421.4 L251.8,423.7 L251.7,423.4 L252.0,424.5 L252.1,425.3 L252.1,423.3 L253.5,426.9 L254.2,427.5 L254.5,426.5 L255.4,428.2 L256.0,429.7 L256.6,431.3 L257.0,431.9 L257.3,432.3 L257.5,432.4 L257.7,431.7 L257.8,430.7 L257.6,428.6 L257.6,427.1 L257.9,427.0 L258.2,426.7 L258.0,424.5 L258.4,424.7 L258.8,425.0 L258.6,422.7 L258.7,421.9 L259.2,422.3 L259.1,420.9 L259.4,420.7 L259.6,420.3 L259.7,419.3 L259.7,418.3 L259.9,417.7 L260.0,416.8 L260.1,415.8 L259.8,413.4 L260.1,413.3 L260.0,411.9 L260.6,412.9 L261.1,413.7 L261.2,412.7 L260.5,408.9 L260.9,409.3 L261.0,408.3 L261.0,406.8 L260.8,406.4 L261.4,408.9 L261.4,409.1 L261.6,410.0 L261.8,411.1 L262.2,412.8 L261.7,410.9 L262.3,413.7 L262.3,413.8 L262.5,414.5 L262.9,416.3 L263.0,417.1 L262.6,415.9 L263.1,418.1 L263.2,418.9 L263.2,419.0 L263.3,419.7 L263.2,419.6 L263.7,422.1 L264.2,424.4 L264.0,424.1 L264.0,424.5 L263.9,424.1 L264.0,425.0 L264.1,425.5 L264.4,427.1 L265.0,429.9 L265.2,431.2 L265.1,431.1 L265.1,429.7 L265.4,429.7 L265.2,427.9 L265.2,426.4 L265.6,426.6 L265.6,425.7 L266.3,427.1 L266.2,425.5 L266.1,423.8 L266.3,423.4 L266.1,421.2 L266.4,421.2 L266.8,421.7 L266.8,420.1 L266.7,418.5 L267.0,418.7 L266.9,416.8 L267.4,416.3 L267.8,415.0 L268.4,414.8 L268.7,413.3 L269.4,413.3 L270.1,413.2 L271.1,413.9 L271.4,412.1 L271.9,411.1 L271.8,408.8 L272.0,407.8 L272.4,407.8 L272.4,406.0 L272.8,405.7 L273.0,404.5 L273.5,404.7 L273.8,404.3 L273.8,403.1 L274.1,403.0 L274.0,401.5 L274.1,400.9 L274.3,400.6 L274.5,400.0 L274.6,399.4 L275.0,399.7 L274.7,397.4 L274.7,396.2 L274.3,393.7 L274.8,394.3 L274.6,392.6 L274.7,391.7 L274.8,390.9 L275.1,391.0 L275.2,390.0 L275.2,389.1 L275.4,388.6 L275.4,387.5 L275.5,386.9 L275.4,385.3 L275.7,385.1 L275.4,384.6 L275.9,387.0 L276.2,388.6 L276.4,389.7 L276.5,390.4 L276.3,390.3 L276.6,391.6 L276.3,390.8 L276.0,389.9 L276.1,390.9 L276.8,394.3 L277.0,395.4 L277.4,397.5 L277.2,397.0 L277.5,398.6 L277.9,400.4 L277.7,399.9 L277.9,401.5 L278.1,402.7 L277.9,402.4 L278.4,404.6 L278.0,403.5 L277.9,403.7 L278.1,404.9 L278.1,405.2 L278.7,408.1 L278.8,409.1 L278.6,408.7 L278.8,410.1 L279.4,410.8 L279.2,408.7 L279.6,408.9 L279.8,408.3 L279.6,406.1 L279.6,404.5 L279.8,404.0 L280.2,404.1 L280.6,404.1 L280.8,403.7 L280.6,401.4 L280.3,398.5 L280.5,398.0 L281.0,398.2 L281.5,398.3 L281.9,398.1 L282.0,396.6 L282.2,395.5 L282.5,394.9 L282.8,394.2 L283.0,393.2 L283.1,391.7 L283.0,389.5 L283.5,389.5 L283.9,388.9 L284.5,389.6 L284.5,387.4 L284.7,386.3 L284.2,384.9 L284.5,387.0 L285.1,390.0 L285.0,390.2 L284.9,390.4 L285.1,391.8 L285.5,394.0 L285.6,395.2 L285.6,396.0 L285.7,396.9 L285.4,396.6 L285.4,397.2 L285.5,398.1 L285.9,400.3 L285.2,398.2 L285.2,398.9 L285.4,400.5 L285.4,401.2 L285.5,402.0 L285.5,402.7 L285.3,402.9 L285.6,404.6 L286.0,406.7 L285.8,406.7 L285.9,407.7 L286.1,409.3 L285.9,408.9 L285.9,409.6 L285.6,409.3 L286.1,412.0 L286.5,414.0 L286.2,413.8 L286.6,416.0 L286.3,415.2 L286.0,414.8 L286.1,416.2 L286.2,417.2 L286.3,418.3 L286.4,419.5 L286.2,419.4 L286.5,421.2 L286.4,421.8 L286.8,423.9 L286.5,423.7 L285.8,421.7 L286.5,425.0 L286.5,425.9 L286.0,424.6 L286.0,425.4 L286.0,426.0 L286.4,428.3 L286.2,428.5 L286.6,430.6 L286.4,430.6 L286.6,432.3 L286.4,432.1 L286.2,431.9 L286.4,433.7 L286.4,434.4 L286.6,435.8 L286.2,434.9 L286.1,435.4 L286.2,436.6 L286.8,439.8 L286.8,440.4 L286.3,439.3 L285.7,437.7 L286.6,441.7 L286.7,442.9 L286.4,442.5 L286.7,444.6 L286.9,446.1 L287.3,448.4 L287.1,448.3 L286.8,447.9 L287.0,449.3 L286.6,448.5 L286.6,449.2 L286.4,449.4 L286.5,450.3 L286.3,450.5 L286.2,450.9 L286.3,451.7 L286.6,453.9 L286.7,455.1 L286.8,456.1 L287.0,457.5 L287.1,458.8 L287.1,459.7 L287.5,462.0 L287.3,462.0 L287.3,462.4 L287.0,462.3 L287.3,464.0 L287.5,465.6 L286.6,462.8 L287.0,465.1 L287.0,465.7 L287.1,466.7 L287.3,467.7 L287.1,467.5 L287.1,467.6 L287.3,469.1 L288.2,472.9 L287.8,471.8 L287.9,472.4 L288.0,473.2 L288.1,474.1 L288.5,476.2 L289.0,478.5 L288.6,477.6 L288.8,477.4 L288.7,475.8 L289.1,476.3 L288.9,474.7 L289.0,474.2 L288.9,472.7 L289.1,472.7 L289.0,471.3 L288.8,469.5 L289.3,470.6 L288.8,467.4 L289.0,467.1 L289.0,466.2 L288.9,464.8 L289.5,466.3 L289.5,465.3 L289.3,463.6 L289.1,461.9 L289.3,461.8 L289.4,461.0 L289.4,460.0 L289.3,458.7 L289.8,459.6 L289.7,458.6 L289.7,457.2 L289.4,455.2 L289.4,454.2 L289.7,454.6 L289.7,453.6 L289.9,453.2 L289.8,452.2 L290.0,451.7 L290.0,451.0 L289.9,449.6 L289.9,448.6 L290.0,447.8 L290.2,447.7 L290.7,448.8 L290.7,447.7 L290.2,444.8 L290.7,446.0 L290.5,444.1 L290.3,442.2 L290.3,441.6 L290.4,440.7 L290.5,440.1 L290.5,439.1 L290.5,438.3 L290.8,438.6 L291.1,438.8 L290.9,437.1 L291.2,437.1 L291.2,436.2 L291.2,435.5 L291.1,433.9 L291.0,432.7 L291.1,432.1 L290.8,429.9 L290.9,429.2 L290.7,427.4 L291.0,427.8 L291.0,426.9 L291.3,426.7 L291.2,425.2 L291.1,423.7 L291.5,424.0 L291.4,422.6 L291.4,421.6 L291.5,420.9 L291.7,420.6 L291.8,419.7 L291.6,417.8 L291.6,416.4 L292.0,417.1 L292.0,415.9 L292.1,415.0 L292.0,413.5 L292.4,414.0 L292.5,413.4 L292.4,411.9 L292.1,409.6 L292.8,411.1 L292.7,409.5 L292.5,407.6 L292.6,406.9 L292.8,406.6 L292.8,407.0 L292.9,407.8 L292.9,408.0 L293.3,410.1 L293.2,410.3 L293.0,409.8 L293.5,412.0 L293.5,412.7 L293.5,413.0 L293.4,413.0 L293.6,414.2 L294.0,416.4 L294.7,415.0 L295.8,415.3 L296.1,417.0 L296.4,418.5 L296.4,419.1 L296.5,419.9 L296.3,419.9 L296.0,419.3 L296.4,421.1 L296.8,423.2 L296.6,422.9 L296.5,423.1 L296.5,423.5 L296.4,423.6 L296.8,425.6 L296.6,425.7 L297.2,428.3 L297.5,430.3 L297.4,430.4 L297.4,430.6 L297.2,430.4 L297.4,431.9 L297.7,432.9 L297.6,432.2 L297.8,432.7 L298.3,434.6 L298.4,435.1 L298.9,436.6 L299.0,436.0 L299.5,436.4 L299.4,434.8 L299.7,434.7 L299.9,434.2 L300.2,433.8 L300.0,431.7 L300.1,430.8 L300.7,431.9 L300.5,429.7 L300.3,427.8 L300.5,427.0 L300.3,425.0 L300.4,423.8 L300.7,423.9 L300.8,424.2 L301.3,426.3 L301.2,425.9 L301.4,426.9 L301.7,428.1 L301.8,428.7 L302.2,430.3 L302.8,432.9 L302.5,431.6 L302.5,431.5 L302.7,432.6 L302.9,432.9 L303.2,433.8 L303.7,435.5 L304.1,437.1 L304.8,440.4 L304.4,439.8 L303.8,438.0 L304.3,440.7 L304.2,441.1 L304.1,441.3 L304.4,443.2 L304.3,443.4 L304.2,443.9 L304.0,443.9 L304.3,445.9 L304.5,447.2 L304.2,446.8 L304.1,447.2 L304.5,449.4 L304.2,449.3 L304.2,449.8 L304.1,450.1 L304.2,451.1 L304.4,453.1 L304.4,453.8 L304.6,455.3 L304.7,456.2 L304.1,454.7 L304.3,456.0 L304.4,457.1 L304.0,456.6 L304.4,458.9 L304.5,459.8 L304.4,460.2 L304.6,461.7 L304.8,463.3 L304.9,464.3 L304.6,464.1 L304.6,464.8 L305.2,467.8 L304.7,466.4 L304.7,467.3 L304.7,468.1 L305.0,470.2 L305.0,470.9 L305.0,471.3 L304.8,471.5 L305.1,473.3 L305.0,473.6 L304.9,473.9 L304.9,474.8 L305.0,476.0 L305.0,476.5 L305.0,477.3 L305.1,478.6 L304.9,478.3 L304.8,479.0 L304.9,480.0 L305.1,481.4 L305.2,482.5 L305.0,482.5 L304.9,483.0 L305.4,481.6 L306.1,480.7 L307.0,480.9 L307.3,480.7 L307.4,479.6 L307.2,477.7 L307.1,476.0 L307.5,476.0 L307.9,476.0 L308.1,475.5 L308.1,474.3 L308.4,474.0 L308.0,471.1 L308.6,472.0 L308.8,471.5 L309.1,471.1 L309.2,470.1 L309.2,468.8 L309.6,468.6 L309.4,466.6 L309.5,465.4 L309.8,465.2 L309.7,463.2 L310.1,463.5 L310.4,464.7 L310.6,465.4 L310.7,465.7 L311.4,468.3 L311.3,468.0 L311.5,468.8 L311.9,470.2 L312.0,470.6 L312.2,471.4 L312.4,470.8 L312.4,470.0 L312.5,468.9 L312.6,468.5 L312.5,466.7 L312.8,466.8 L313.0,466.6 L312.7,464.2 L312.5,462.2 L312.4,460.8 L312.6,460.2 L313.0,460.8 L313.2,460.2 L313.7,461.1 L313.9,461.0 L313.4,457.8 L313.4,456.7 L313.5,455.8 L314.0,456.6 L314.1,456.0 L314.2,455.4 L314.0,453.1 L314.5,454.1 L314.1,451.4 L314.2,450.6 L314.0,448.9 L314.2,448.4 L314.6,447.6 L314.9,446.2 L315.6,446.5 L316.1,446.1 L316.5,445.1 L316.9,444.2 L317.2,444.6 L317.4,444.1 L317.1,441.5 L317.3,441.3 L317.5,441.0 L317.4,439.3 L317.4,438.0 L317.8,438.4 L317.9,437.7 L317.9,436.5 L318.3,436.7 L318.4,435.9 L318.7,435.9 L318.4,433.5 L318.6,433.1 L318.1,429.9 L318.1,428.9 L318.6,429.5 L318.5,428.0 L318.5,427.2 L318.6,426.3 L318.8,426.1 L319.1,426.2 L319.4,426.4 L319.2,424.5 L319.2,423.5 L319.4,423.1 L319.6,422.8 L319.4,420.9 L319.7,421.0 L319.2,418.2 L319.4,417.8 L319.1,415.7 L319.2,415.0 L319.2,414.0 L319.8,415.4 L320.2,415.7 L320.2,414.6 L320.1,413.2 L319.6,410.1 L319.4,408.2 L319.9,409.2 L320.2,408.8 L320.4,408.4 L320.3,406.7 L320.3,405.3 L320.7,405.3 L321.3,406.6 L321.4,405.5 L321.3,403.8 L321.4,402.4 L321.5,401.8 L321.7,400.9 L321.4,398.5 L322.0,399.5 L322.0,398.1 L322.4,399.6 L322.4,399.6 L322.8,401.4 L323.1,402.7 L322.9,402.2 L323.3,404.0 L323.2,403.7 L323.3,404.1 L323.8,405.2 L324.0,405.1 L324.3,405.8 L324.6,406.2 L325.3,408.0 L325.2,408.4 L325.4,409.7 L325.6,411.0 L325.9,413.2 L325.9,413.7 L325.9,414.4 L325.9,415.1 L326.0,416.1 L326.1,417.1 L326.1,417.5 L325.7,416.8 L325.6,416.9 L325.8,418.5 L325.8,419.2 L325.8,419.8 L325.8,420.4 L325.8,421.0 L326.2,423.2 L326.4,424.6 L326.0,423.8 L326.2,425.1 L326.2,426.0 L326.2,426.4 L326.5,428.4 L326.5,429.2 L326.5,429.7 L326.3,429.6 L326.6,431.5 L326.6,432.3 L326.7,433.1 L326.5,433.0 L326.7,434.5 L326.2,432.8 L326.2,433.4 L326.1,433.8 L326.2,434.7 L326.4,435.8 L326.6,437.3 L326.8,438.6 L327.0,440.2 L327.5,442.4 L327.6,443.3 L327.5,443.8 L327.5,444.2 L327.6,445.3 L327.8,446.6 L327.6,446.3 L328.1,448.8 L328.0,448.9 L328.0,449.3 L327.7,446.5 L328.1,446.5 L328.3,445.5 L328.9,446.2 L329.2,445.9 L329.4,444.7 L329.4,443.1 L329.6,444.0 L329.6,443.9 L330.1,446.1 L330.0,445.5 L330.2,446.3 L330.2,446.5 L330.7,448.3 L330.6,448.4 L331.1,450.6 L331.1,450.5 L331.5,452.3 L331.2,451.4 L331.4,452.2 L331.5,452.9 L332.0,455.1 L332.5,457.3 L332.1,455.6 L332.4,457.1 L332.9,459.1 L333.0,460.1 L333.4,462.2 L333.6,463.3 L333.5,463.5 L333.1,462.5 L333.1,462.9 L333.7,465.6 L333.4,465.2 L333.3,465.2 L333.5,466.2 L333.9,468.6 L334.0,469.3 L333.9,469.4 L334.0,467.8 L334.6,468.2 L335.2,468.5 L335.7,468.6 L335.9,467.4 L336.1,466.4 L336.1,464.2 L336.4,463.4 L336.3,461.2 L336.6,461.0 L337.0,461.0 L337.2,460.3 L337.2,458.7 L337.6,458.7 L338.0,458.7 L338.4,458.6 L338.1,455.9 L337.7,452.7 L338.0,452.2 L338.7,453.1 L339.3,453.6 L339.6,453.3 L339.8,452.2 L340.0,451.4 L340.1,450.1 L340.1,450.4 L340.1,450.6 L341.0,454.9 L340.8,454.5 L341.0,455.4 L341.1,456.3 L341.3,457.5 L341.2,457.6 L341.5,459.0 L341.9,461.1 L341.6,460.3 L341.5,460.2 L341.5,460.8 L341.4,461.1 L341.3,461.2 L341.6,463.0 L341.8,464.7 L342.1,466.5 L342.3,467.9 L342.0,467.5 L342.0,468.2 L341.8,468.0 L341.9,469.1 L342.0,470.1 L342.1,471.3 L342.1,471.9 L341.8,471.7 L342.2,473.8 L342.1,474.2 L341.8,473.8 L341.6,473.6 L342.1,476.0 L341.8,475.5 L342.2,477.7 L342.6,480.1 L342.6,480.9 L342.7,481.9 L342.7,482.7 L342.5,482.4 L342.5,483.3 L342.1,482.3 L342.4,484.4 L342.7,485.9 L342.7,486.7 L342.9,488.3 L342.8,488.4 L342.4,487.5 L342.9,490.1 L342.8,490.7 L342.7,490.8 L342.6,491.3 L342.7,492.1 L342.8,493.4 L342.6,493.2 L342.8,494.6 L342.8,495.4 L343.0,497.1 L343.0,497.5 L343.2,498.9 L343.0,499.1 L343.1,498.5 L343.1,497.4 L343.4,497.7 L343.5,496.8 L343.7,496.6 L343.4,494.7 L343.3,493.3 L343.4,492.6 L343.2,491.0 L343.4,490.4 L343.8,491.1 L343.5,489.0 L343.5,488.0 L343.6,487.6 L344.1,488.4 L344.5,489.0 L344.1,486.5 L344.0,484.9 L344.1,484.3 L343.9,482.8 L343.6,480.4 L344.0,481.0 L344.2,480.8 L344.3,480.2 L344.4,479.8 L344.4,478.5 L344.3,477.3 L344.5,477.2 L344.5,476.2 L344.6,475.4 L344.4,473.5 L344.6,473.2 L344.6,472.5 L344.5,471.0 L344.5,470.0 L344.6,469.3 L344.8,469.0 L344.8,467.9 L344.7,466.5 L344.9,466.4 L344.8,464.8 L345.1,465.0 L345.0,463.7 L345.1,463.2 L345.5,463.7 L345.0,460.6 L345.0,459.4 L345.2,459.1 L345.4,458.9 L345.3,457.7 L345.3,456.7 L345.7,457.0 L345.5,456.7 L345.8,458.3 L345.9,459.0 L346.1,460.2 L346.4,461.4 L346.7,463.0 L346.6,463.1 L346.7,463.7 L347.0,465.2 L346.6,464.1 L347.0,465.9 L347.0,466.3 L347.5,468.6 L347.5,469.1 L347.4,469.2 L347.7,471.4 L347.6,471.6 L347.5,471.7 L347.8,473.3 L347.4,472.5 L347.6,474.0 L347.9,475.9 L347.7,475.6 L348.1,477.8 L348.0,478.2 L348.0,478.6 L347.7,478.2 L348.3,481.1 L348.6,483.0 L348.4,482.9 L348.5,483.8 L348.0,482.7 L348.2,484.2 L348.4,485.7 L348.3,485.8 L348.3,486.4 L348.4,487.5 L348.4,487.9 L348.2,487.7 L348.7,490.5 L349.3,491.9 L349.9,492.9 L350.5,493.9 L351.1,495.1 L351.2,494.5 L350.9,492.9 L351.4,494.8 L351.6,495.8 L351.7,496.1 L352.3,498.2 L352.4,498.4 L352.8,499.9 L353.3,500.8 L353.2,499.1 L353.3,498.3 L353.5,497.9 L353.6,497.3 L353.6,496.0 L353.8,495.4 L353.8,494.2 L353.7,492.8 L353.8,491.9 L354.1,491.8 L354.3,491.4 L354.4,490.6 L354.1,488.1 L354.3,488.0 L355.0,488.9 L355.5,489.1 L356.3,490.3 L356.9,490.7 L357.7,492.6 L357.7,490.7 L358.5,492.2 L359.4,494.2 L359.9,494.7 L360.5,493.8 L361.2,492.9 L361.9,492.1 L362.8,491.9 L363.2,491.8 L363.2,490.2 L363.7,490.5 L363.9,489.7 L363.6,486.7 L363.9,486.2 L364.3,485.8 L364.6,485.4 L364.9,484.4 L365.2,483.8 L365.5,483.0 L365.7,482.1 L366.1,481.7 L366.2,480.3 L366.7,480.2 L366.5,477.7 L367.1,478.1 L367.1,476.7 L367.3,475.9 L367.6,475.7 L367.6,474.4 L367.2,471.1 L367.4,470.4 L367.8,470.8 L368.2,470.5 L368.4,469.9 L368.5,469.0 L368.9,469.3 L369.1,468.5 L369.1,466.8 L369.2,465.6 L369.8,466.2 L370.0,465.4 L370.3,464.9 L370.5,463.9 L370.7,463.1 L370.8,461.7 L371.0,460.8 L371.2,459.0 L371.6,458.1 L372.6,459.7 L373.1,459.2 L373.4,457.7 L373.5,456.8 L373.2,454.5 L373.6,454.9 L373.3,452.5 L373.8,453.3 L373.8,452.0 L373.6,450.0 L374.2,451.2 L374.0,449.2 L374.1,448.4 L374.2,447.7 L374.0,445.7 L374.5,446.3 L374.3,444.1 L374.6,443.7 L374.6,442.3 L375.3,443.5 L375.4,442.5 L375.8,442.7 L375.6,440.7 L375.8,439.9 L376.0,439.4 L376.0,438.0 L376.1,438.6 L376.4,440.4 L376.4,441.1 L376.4,441.6 L376.6,442.8 L376.0,440.8 L376.0,441.5 L376.4,443.6 L376.5,444.3 L376.6,445.2 L376.4,445.0 L376.6,446.2 L377.1,448.7 L377.0,448.9 L376.9,448.8 L377.0,449.8 L377.4,451.9 L377.3,451.9 L377.0,451.4 L377.4,453.6 L377.6,453.9 L377.9,455.2 L377.8,454.6 L378.0,455.2 L378.4,456.6 L378.9,458.6 L379.5,459.1 L379.9,458.9 L380.1,458.1 L380.3,457.2 L380.5,456.3 L380.6,455.1 L380.6,453.1 L381.3,452.4 L381.9,451.3 L383.0,451.8 L383.6,450.0" class="s"/><text x="42.5" y="391.9" class="al">6.59</text><line x1="382.7" x2="382.7" y1="310" y2="519.5" stroke="#8c8c8c" stroke-width="1"/><circle cx="382.9" cy="450.5" r="3" fill="#b17cf7"/><line x1="795.3" x2="448" y1="352.3" y2="352.3" class="g"/><line x1="795.3" x2="448" y1="456.4" y2="456.4" class="g"/><line x1="794.6" x2="447" y1="403.2" y2="403.2" class="a"/><text x="440.1" y="356.1" class="yl">10.0</text><text x="440.1" y="460.2" class="yl">5.0</text><text x="546" y="532.9" class="xl">2015</text><text x="688" y="532.9" class="xl">2020</text><path d="M687.6,457.9 L688.3,458.2 L688.9,458.2 L689.1,456.6 L689.2,454.6 L689.4,452.8 L689.9,452.5 L690.4,451.8 L690.1,451.0 L690.5,452.9 L690.7,454.3 L691.0,455.7 L690.8,455.6 L691.0,456.7 L691.1,457.6 L690.9,457.2 L691.3,459.2 L691.5,460.5 L692.1,463.4 L692.0,463.4 L691.9,463.4 L692.2,465.1 L692.2,465.4 L692.4,466.6 L692.3,466.5 L692.4,467.3 L692.7,468.9 L692.8,469.8 L692.7,469.6 L692.5,469.6 L692.7,471.1 L692.8,472.0 L693.0,473.4 L693.0,474.1 L693.2,475.7 L693.1,475.9 L693.1,476.6 L693.2,477.8 L692.9,477.2 L692.9,477.9 L693.0,478.6 L693.5,481.5 L693.4,481.7 L693.5,482.8 L693.4,483.1 L693.7,484.0 L693.5,483.4 L694.1,485.7 L694.3,486.4 L694.6,486.2 L694.3,484.0 L694.5,483.2 L695.0,483.9 L695.4,484.1 L695.0,481.3 L695.1,480.3 L695.1,479.2 L695.4,479.4 L695.4,478.6 L695.5,477.9 L695.3,476.0 L695.5,476.0 L695.8,476.2 L695.6,474.5 L695.3,472.3 L695.3,471.3 L695.7,471.7 L695.3,469.4 L695.5,469.2 L695.7,468.8 L695.7,467.6 L695.9,467.0 L696.1,466.5 L696.5,467.2 L696.6,466.3 L696.9,466.2 L696.8,464.5 L696.7,462.8 L696.9,462.3 L696.3,458.8 L696.7,459.0 L697.0,459.0 L696.9,457.3 L697.3,457.5 L697.3,456.4 L696.9,453.7 L697.3,453.8 L697.3,452.9 L697.5,452.4 L697.8,452.1 L698.2,452.4 L698.6,453.4 L699.0,454.0 L699.5,455.1 L699.4,454.1 L700.2,456.6 L700.4,456.3 L701.0,457.9 L700.9,456.1 L701.1,454.9 L701.4,454.4 L702.2,455.8 L702.5,455.2 L702.4,453.3 L702.6,452.2 L702.6,450.4 L702.9,450.1 L703.1,449.1 L703.6,449.3 L703.7,448.0 L704.2,448.2 L704.7,448.6 L705.2,449.3 L706.1,451.3 L706.7,452.2 L707.2,453.6 L707.8,455.2 L708.4,456.4 L708.3,455.2 L708.8,456.6 L708.8,455.7 L709.5,457.6 L709.9,460.0 L709.8,460.1 L709.7,460.3 L709.9,461.3 L709.9,462.1 L710.0,462.9 L709.9,463.0 L710.2,465.1 L710.4,466.4 L710.3,466.5 L710.4,467.4 L710.6,468.6 L710.8,469.9 L710.6,469.7 L710.8,471.4 L710.7,471.4 L710.4,471.1 L710.4,471.8 L710.7,473.9 L710.9,475.4 L710.9,475.8 L710.7,475.8 L710.8,476.9 L711.2,479.1 L711.3,480.4 L711.0,479.7 L710.9,480.2 L710.6,479.6 L710.5,479.9 L710.7,481.7 L710.9,482.8 L711.2,484.7 L711.4,486.4 L711.4,487.3 L711.3,487.2 L711.3,488.0 L711.1,487.5 L711.4,489.1 L712.2,492.3 L712.1,492.3 L711.8,491.4 L711.9,492.5 L712.1,493.6 L712.4,492.0 L713.1,491.9 L713.3,490.2 L713.7,490.5 L713.9,489.9 L713.9,488.7 L714.4,489.3 L714.1,487.0 L714.0,485.1 L714.5,486.0 L714.2,483.6 L714.5,483.4 L714.7,482.9 L714.5,480.7 L714.7,480.0 L714.9,479.4 L715.1,478.7 L715.2,477.6 L715.5,477.8 L715.3,475.5 L715.3,475.4 L715.6,476.6 L716.3,479.5 L715.9,478.0 L716.2,479.0 L716.5,480.2 L716.6,480.3 L717.3,482.5 L717.8,483.7 L718.8,484.1 L719.1,481.8 L719.6,481.2 L720.3,481.1 L720.5,479.4 L720.6,478.5 L720.8,478.4 L720.5,476.2 L721.0,477.0 L720.9,475.5 L720.8,474.1 L720.9,473.3 L721.1,473.0 L721.4,473.2 L721.2,471.3 L721.0,469.4 L721.2,469.2 L721.1,467.3 L720.8,465.1 L721.3,465.9 L721.3,464.8 L721.7,465.2 L721.5,463.1 L721.0,459.9 L721.5,460.7 L721.7,460.6 L722.3,461.5 L722.3,460.6 L722.4,459.6 L722.5,458.9 L722.4,457.3 L722.5,456.5 L722.2,454.3 L722.6,454.5 L722.5,453.0 L722.6,452.2 L722.9,452.2 L723.3,452.3 L723.1,450.2 L723.8,451.4 L723.6,449.3 L723.9,449.2 L724.2,448.8 L724.2,447.6 L724.3,446.5 L724.8,447.0 L725.0,446.1 L725.0,444.9 L724.7,442.4 L724.7,440.7 L725.3,441.4 L725.5,440.6 L725.4,438.7 L725.5,437.6 L725.7,436.9 L726.2,437.0 L726.4,436.1 L726.7,436.3 L726.4,434.3 L726.7,434.4 L726.6,432.8 L726.6,431.7 L727.1,432.6 L727.0,431.2 L727.0,429.9 L727.0,428.8 L726.9,427.6 L727.4,428.4 L727.6,428.3 L727.7,427.2 L727.6,425.8 L727.8,425.5 L727.6,423.9 L727.7,423.2 L727.8,422.4 L727.7,420.9 L728.3,423.3 L728.7,424.9 L729.0,425.8 L728.5,423.7 L729.1,426.3 L729.3,427.1 L729.2,426.6 L729.6,427.4 L730.2,429.1 L730.7,430.4 L731.1,431.2 L731.2,430.6 L731.3,431.7 L731.5,433.0 L731.4,433.2 L731.2,432.9 L731.1,433.4 L731.3,434.5 L731.5,435.8 L732.0,438.7 L731.5,437.4 L731.7,438.6 L731.7,439.2 L731.8,440.2 L732.1,442.1 L732.3,443.4 L732.1,443.2 L731.9,443.1 L731.7,442.6 L731.9,443.9 L732.3,446.2 L732.2,446.4 L732.4,447.8 L732.5,448.9 L732.5,449.6 L732.7,451.0 L732.5,450.5 L732.8,450.6 L733.1,450.3 L734.0,452.2 L734.1,451.1 L734.2,450.1 L734.6,450.2 L734.5,448.4 L735.1,449.4 L735.3,448.5 L735.2,446.6 L735.2,445.4 L735.7,447.0 L735.6,446.4 L735.8,447.0 L736.2,448.2 L736.5,449.4 L736.8,450.3 L737.0,451.5 L737.1,451.8 L737.2,452.6 L737.7,454.7 L737.8,455.7 L737.8,455.6 L738.3,457.9 L737.8,456.2 L738.1,457.8 L738.4,459.1 L738.7,460.7 L738.7,461.2 L738.7,461.4 L738.9,462.7 L739.0,463.2 L739.2,464.4 L738.6,462.5 L739.1,464.7 L739.4,466.1 L739.8,465.9 L740.2,465.7 L740.5,465.2 L740.5,463.5 L740.9,463.0 L741.0,461.7 L742.0,461.4 L742.9,460.8 L742.9,459.1 L743.6,460.4 L743.8,459.7 L743.4,456.3 L743.9,456.8 L743.8,454.6 L744.0,454.1 L744.3,453.7 L744.3,452.2 L744.7,452.1 L744.8,451.1 L744.7,449.2 L745.0,449.1 L745.4,448.9 L746.0,449.8 L745.8,447.6 L746.2,446.1 L747.0,446.2 L747.2,447.4 L747.1,447.4 L747.0,447.9 L747.4,449.7 L747.4,450.5 L747.6,451.5 L747.5,451.7 L747.4,452.0 L747.5,453.0 L747.6,454.0 L747.7,454.8 L747.9,456.3 L748.1,457.6 L748.1,458.2 L748.3,459.6 L748.0,459.2 L747.8,459.1 L748.2,461.2 L748.2,462.0 L748.2,462.9 L748.0,462.6 L748.1,463.7 L748.0,464.2 L748.0,464.7 L748.0,465.5 L747.8,465.6 L748.1,467.4 L748.5,469.7 L748.3,469.7 L748.4,470.7 L748.2,470.6 L748.5,472.5 L748.9,475.0 L748.5,473.9 L748.5,474.6 L748.9,476.8 L748.8,477.5 L748.8,478.0 L748.3,476.7 L748.4,478.0 L748.8,480.1 L749.1,482.0 L749.1,482.8 L748.8,482.4 L748.7,482.5 L748.3,481.9 L748.3,482.6 L748.8,485.4 L748.8,486.1 L748.6,485.8 L749.1,488.4 L748.6,487.4 L749.1,490.0 L749.0,490.3 L749.1,489.8 L749.3,489.4 L749.3,488.5 L749.6,488.5 L749.5,487.0 L749.3,485.5 L749.2,484.0 L749.0,482.1 L749.1,481.4 L749.5,482.1 L749.7,482.0 L750.0,482.0 L750.5,482.9 L750.3,481.2 L750.2,479.7 L749.8,476.9 L749.8,475.9 L750.4,477.2 L750.3,476.0 L750.2,474.4 L750.2,473.6 L749.8,470.7 L750.0,470.7 L749.7,468.4 L749.5,466.6 L750.0,467.9 L750.4,468.4 L750.3,467.2 L750.5,466.7 L750.2,464.9 L750.4,464.8 L750.7,464.7 L751.0,464.9 L751.1,464.8 L751.0,463.3 L750.8,461.6 L750.6,459.7 L750.5,458.5 L750.8,458.5 L750.9,458.1 L750.9,457.1 L751.3,457.6 L751.3,456.6 L751.1,455.2 L751.0,453.8 L751.0,452.9 L750.8,451.2 L750.7,449.8 L751.1,450.1 L751.5,450.2 L752.1,450.9 L752.9,452.4 L752.9,453.2 L753.3,455.1 L753.2,455.3 L753.5,457.2 L753.5,457.6 L753.0,456.2 L753.4,458.5 L753.3,458.8 L752.9,457.7 L753.2,459.4 L753.4,460.7 L753.2,460.5 L753.3,461.3 L753.6,463.2 L754.0,465.4 L754.2,466.7 L754.3,467.8 L754.4,468.8 L753.9,467.1 L753.7,467.0 L753.9,468.6 L753.4,467.2 L754.0,469.9 L754.3,471.9 L754.2,471.8 L754.2,472.5 L754.1,472.8 L754.3,474.1 L754.4,475.2 L754.5,476.2 L754.4,476.2 L754.6,477.8 L754.7,478.7 L755.2,480.3 L755.5,481.0 L755.4,480.2 L755.5,480.1 L756.2,482.4 L756.2,482.5 L756.7,484.2 L757.1,485.8 L757.2,486.3 L757.0,485.5 L757.1,485.8 L757.7,488.2 L757.9,488.2 L758.8,490.4 L758.9,489.6 L759.2,489.2 L759.1,487.3 L759.3,486.6 L758.8,483.3 L759.3,483.5 L759.8,484.0 L760.0,483.3 L760.2,483.0 L760.8,484.3 L761.4,485.4 L761.9,486.2 L762.6,487.2 L762.9,486.3 L763.9,488.5 L764.5,487.3 L765.4,487.0 L766.8,488.6 L767.0,487.0 L767.0,485.0 L767.6,485.2 L767.9,484.0 L768.5,484.0 L768.6,482.2 L768.9,481.5 L769.2,480.5 L769.4,479.5 L770.3,481.0 L770.5,479.7 L771.0,479.7 L770.9,477.3 L771.4,477.4 L771.4,475.4 L771.6,474.7 L772.2,474.9 L772.4,473.9 L772.3,471.3 L772.8,471.0 L773.3,470.8 L774.0,471.0 L774.3,470.0 L774.3,468.7 L774.5,468.2 L774.3,466.0 L774.6,465.8 L774.7,464.7 L775.1,464.8 L775.2,464.0 L775.3,463.1 L775.0,460.2 L775.6,461.2 L775.6,459.8 L775.7,458.6 L775.9,457.9 L775.9,456.5 L776.3,456.6 L776.7,456.8 L777.0,456.4 L777.0,454.8 L777.3,454.6 L778.0,454.9 L778.0,452.7 L778.3,451.8 L778.6,450.7 L778.6,449.5 L778.9,449.7 L779.3,450.0 L779.2,448.3 L778.8,445.7 L779.0,445.4 L779.5,446.3 L779.6,445.3 L779.9,445.4 L780.0,444.7 L780.3,444.6 L780.2,443.3 L779.9,440.9 L780.2,440.5 L780.8,441.7 L780.5,439.1 L780.1,436.2 L780.8,437.7 L780.8,436.7 L780.7,434.8 L780.7,433.4 L780.5,431.3 L781.0,432.1 L781.3,432.9 L781.5,433.1 L781.8,433.8 L782.1,434.4 L782.6,436.2 L782.6,437.0 L783.0,439.0 L782.7,438.5 L782.6,438.8 L782.6,439.4 L782.7,440.1 L782.8,441.3 L783.2,443.3 L783.4,445.0 L783.1,444.2 L783.4,446.3 L783.4,446.7 L783.7,448.7 L783.5,448.6 L783.3,448.3 L783.6,450.0 L783.6,450.6 L783.8,451.3 L784.0,452.2 L784.3,453.3 L784.5,454.2 L784.4,452.0 L784.6,450.7 L785.1,450.9 L785.6,450.8 L785.9,450.1 L785.8,447.4 L786.6,448.5 L786.8,447.2 L787.0,446.1 L787.9,446.6 L788.4,445.5" class="s"/>
<g fill="none" stroke="#6e6e6e" stroke-width="1.1" stroke-linejoin="round" stroke-linecap="round">
<rect x="331.2" y="261.2" width="7.3" height="9.5" rx="1.2"/><path d="M329,263.5v8.3a1.3,1.3 0 0 0 1.3,1.3h5.6"/>
<path d="M360.5,262.2h-4.2a1.2,1.2 0 0 0 -1.2,1.2v9.2a1.2,1.2 0 0 0 1.2,1.2h9.2a1.2,1.2 0 0 0 1.2,-1.2v-4.2M355.2,268.6h4.6v5M361.5,267.5l5,-5M362.8,262.2h3.9v3.9"/>
</g>
<g fill="#6e6e6e"><circle cx="384.6" cy="267" r="1.4"/><circle cx="389" cy="267" r="1.4"/><circle cx="393.4" cy="267" r="1.4"/></g>
<g filter="url(#tsh)">
<text class="note" x="289.9" y="309.3" textLength="190.2" lengthAdjust="spacingAndGlyphs">2023 expected EV/EBITDA is</text>
<text class="note" x="289.1" y="325.3" textLength="142.7" lengthAdjust="spacingAndGlyphs">about 5,2x. That is not</text>
<text class="note" x="288.5" y="341.3" textLength="195.5" lengthAdjust="spacingAndGlyphs">extremely cheap, howerver far</text>
<text class="note" x="288.2" y="357.3" textLength="166" lengthAdjust="spacingAndGlyphs">below average from 2011.</text>
</g>
</svg>
<div id="arrow"></div>
<div id="tip"><div id="tipin"></div><div id="date">2023-07-24</div>
<div class="tl" id="t1">EV / EBITDA Ratio</div><div class="tl" id="t2">4.61</div><div class="tl" id="t3">Enterprise Value / TTM EBITDA</div></div>
<svg class="layer" width="814" height="551" viewBox="0 0 814 551">
<defs><filter id="sh2" x="-10%" y="-10%" width="125%" height="125%"><feDropShadow dx="2.4" dy="2.4" stdDeviation="1.8" flood-color="#a8a8a8" flood-opacity="0.85"/></filter></defs>
<ellipse cx="565.55" cy="347.3" rx="99.05" ry="64" fill="none" stroke="#fa0808" stroke-width="2.6" filter="url(#sh2)"/>
<path d="M388.2,454.7 L388.2,471.3 L392.0,467.7 L394.8,474.0 L397.3,472.9 L394.6,466.8 L399.6,466.8Z" fill="#fff" stroke="#000" stroke-width="1.1" stroke-linejoin="round"/>
</svg>
</body></html>
